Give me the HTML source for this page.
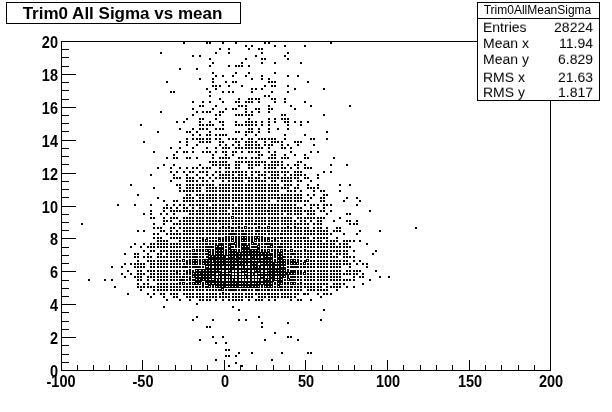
<!DOCTYPE html>
<html><head><meta charset="utf-8"><title>Trim0 All Sigma vs mean</title>
<style>
html,body{margin:0;padding:0;background:#fff;}
body{width:612px;height:412px;position:relative;overflow:hidden;font-family:"Liberation Sans",Arial,Helvetica,sans-serif;color:#000;}
svg{position:absolute;left:0;top:0;}
.title{position:absolute;left:6px;top:2px;width:231px;padding-right:2px;will-change:transform;height:20px;border:1px solid #000;background:#fff;text-align:center;font-weight:bold;font-size:17px;line-height:21px;white-space:nowrap;}
.yl{will-change:transform;transform:scale(1,1.11);position:absolute;left:0;width:58px;text-align:right;font-weight:bold;font-size:14.5px;line-height:18px;height:18px;}
.xl{will-change:transform;transform:scale(1,1.11);position:absolute;top:372px;width:60px;text-align:center;font-weight:bold;font-size:14.5px;line-height:18px;height:18px;}
.stats{position:absolute;left:477px;top:2px;width:121px;height:97px;border:1px solid #000;background:#fff;}
.stats .hd{will-change:transform;padding-right:2px;height:15px;border-bottom:1px solid #000;text-align:center;font-size:12px;line-height:15px;white-space:nowrap;}
.stats .row{position:absolute;left:5px;right:6px;height:16px;font-size:14px;line-height:16px;white-space:nowrap;transform:scale(1,0.93);transform-origin:0 78%;will-change:transform;}
.stats .row span{position:absolute;right:0;top:0;}
</style></head><body>
<svg width="612" height="412" viewBox="0 0 612 412" shape-rendering="crispEdges"><rect x="61" y="41" width="490" height="1" fill="#000"/><rect x="61" y="370" width="490" height="1" fill="#000"/><rect x="61" y="41" width="1" height="330" fill="#000"/><rect x="550" y="41" width="1" height="330" fill="#000"/><rect x="61" y="370" width="15" height="1" fill="#000"/><rect x="61" y="362" width="8" height="1" fill="#000"/><rect x="61" y="354" width="8" height="1" fill="#000"/><rect x="61" y="345" width="8" height="1" fill="#000"/><rect x="61" y="337" width="15" height="1" fill="#000"/><rect x="61" y="329" width="8" height="1" fill="#000"/><rect x="61" y="321" width="8" height="1" fill="#000"/><rect x="61" y="312" width="8" height="1" fill="#000"/><rect x="61" y="304" width="15" height="1" fill="#000"/><rect x="61" y="296" width="8" height="1" fill="#000"/><rect x="61" y="288" width="8" height="1" fill="#000"/><rect x="61" y="280" width="8" height="1" fill="#000"/><rect x="61" y="271" width="15" height="1" fill="#000"/><rect x="61" y="263" width="8" height="1" fill="#000"/><rect x="61" y="255" width="8" height="1" fill="#000"/><rect x="61" y="247" width="8" height="1" fill="#000"/><rect x="61" y="238" width="15" height="1" fill="#000"/><rect x="61" y="230" width="8" height="1" fill="#000"/><rect x="61" y="222" width="8" height="1" fill="#000"/><rect x="61" y="214" width="8" height="1" fill="#000"/><rect x="61" y="206" width="15" height="1" fill="#000"/><rect x="61" y="197" width="8" height="1" fill="#000"/><rect x="61" y="189" width="8" height="1" fill="#000"/><rect x="61" y="181" width="8" height="1" fill="#000"/><rect x="61" y="173" width="15" height="1" fill="#000"/><rect x="61" y="164" width="8" height="1" fill="#000"/><rect x="61" y="156" width="8" height="1" fill="#000"/><rect x="61" y="148" width="8" height="1" fill="#000"/><rect x="61" y="140" width="15" height="1" fill="#000"/><rect x="61" y="131" width="8" height="1" fill="#000"/><rect x="61" y="123" width="8" height="1" fill="#000"/><rect x="61" y="115" width="8" height="1" fill="#000"/><rect x="61" y="107" width="15" height="1" fill="#000"/><rect x="61" y="99" width="8" height="1" fill="#000"/><rect x="61" y="90" width="8" height="1" fill="#000"/><rect x="61" y="82" width="8" height="1" fill="#000"/><rect x="61" y="74" width="15" height="1" fill="#000"/><rect x="61" y="66" width="8" height="1" fill="#000"/><rect x="61" y="57" width="8" height="1" fill="#000"/><rect x="61" y="49" width="8" height="1" fill="#000"/><rect x="61" y="41" width="15" height="1" fill="#000"/><rect x="61" y="360" width="1" height="11" fill="#000"/><rect x="77" y="365" width="1" height="6" fill="#000"/><rect x="93" y="365" width="1" height="6" fill="#000"/><rect x="109" y="365" width="1" height="6" fill="#000"/><rect x="126" y="365" width="1" height="6" fill="#000"/><rect x="142" y="360" width="1" height="11" fill="#000"/><rect x="158" y="365" width="1" height="6" fill="#000"/><rect x="175" y="365" width="1" height="6" fill="#000"/><rect x="191" y="365" width="1" height="6" fill="#000"/><rect x="207" y="365" width="1" height="6" fill="#000"/><rect x="224" y="360" width="1" height="11" fill="#000"/><rect x="240" y="365" width="1" height="6" fill="#000"/><rect x="256" y="365" width="1" height="6" fill="#000"/><rect x="273" y="365" width="1" height="6" fill="#000"/><rect x="289" y="365" width="1" height="6" fill="#000"/><rect x="305" y="360" width="1" height="11" fill="#000"/><rect x="322" y="365" width="1" height="6" fill="#000"/><rect x="338" y="365" width="1" height="6" fill="#000"/><rect x="354" y="365" width="1" height="6" fill="#000"/><rect x="371" y="365" width="1" height="6" fill="#000"/><rect x="387" y="360" width="1" height="11" fill="#000"/><rect x="403" y="365" width="1" height="6" fill="#000"/><rect x="420" y="365" width="1" height="6" fill="#000"/><rect x="436" y="365" width="1" height="6" fill="#000"/><rect x="452" y="365" width="1" height="6" fill="#000"/><rect x="469" y="360" width="1" height="11" fill="#000"/><rect x="485" y="365" width="1" height="6" fill="#000"/><rect x="501" y="365" width="1" height="6" fill="#000"/><rect x="518" y="365" width="1" height="6" fill="#000"/><rect x="534" y="365" width="1" height="6" fill="#000"/><rect x="550" y="360" width="1" height="11" fill="#000"/><g fill="#000"><rect x="183" y="42" width="2" height="2"/><rect x="206" y="42" width="2" height="2"/><rect x="209" y="42" width="2" height="2"/><rect x="222" y="42" width="2" height="2"/><rect x="235" y="42" width="2" height="2"/><rect x="264" y="42" width="2" height="2"/><rect x="268" y="42" width="2" height="2"/><rect x="330" y="42" width="2" height="2"/><rect x="245" y="45" width="2" height="2"/><rect x="251" y="45" width="2" height="2"/><rect x="274" y="45" width="2" height="2"/><rect x="284" y="45" width="2" height="2"/><rect x="304" y="45" width="2" height="2"/><rect x="219" y="48" width="2" height="2"/><rect x="228" y="48" width="2" height="2"/><rect x="248" y="48" width="2" height="2"/><rect x="258" y="48" width="2" height="2"/><rect x="261" y="48" width="2" height="2"/><rect x="160" y="52" width="2" height="2"/><rect x="215" y="52" width="2" height="2"/><rect x="228" y="52" width="2" height="2"/><rect x="261" y="52" width="2" height="2"/><rect x="287" y="52" width="2" height="2"/><rect x="192" y="55" width="2" height="2"/><rect x="199" y="55" width="2" height="2"/><rect x="255" y="55" width="2" height="2"/><rect x="284" y="55" width="2" height="2"/><rect x="209" y="58" width="2" height="2"/><rect x="245" y="58" width="2" height="2"/><rect x="261" y="58" width="2" height="2"/><rect x="264" y="58" width="2" height="2"/><rect x="287" y="58" width="2" height="2"/><rect x="212" y="62" width="2" height="2"/><rect x="241" y="62" width="2" height="2"/><rect x="261" y="62" width="2" height="2"/><rect x="274" y="62" width="2" height="2"/><rect x="300" y="62" width="2" height="2"/><rect x="209" y="65" width="2" height="2"/><rect x="228" y="65" width="2" height="2"/><rect x="235" y="65" width="2" height="2"/><rect x="238" y="65" width="2" height="2"/><rect x="241" y="65" width="2" height="2"/><rect x="248" y="65" width="2" height="2"/><rect x="179" y="68" width="2" height="2"/><rect x="196" y="68" width="2" height="2"/><rect x="212" y="72" width="2" height="2"/><rect x="235" y="72" width="2" height="2"/><rect x="248" y="72" width="2" height="2"/><rect x="274" y="72" width="2" height="2"/><rect x="215" y="75" width="2" height="2"/><rect x="222" y="75" width="2" height="2"/><rect x="232" y="75" width="2" height="2"/><rect x="245" y="75" width="2" height="2"/><rect x="261" y="75" width="2" height="2"/><rect x="287" y="75" width="2" height="2"/><rect x="297" y="75" width="2" height="2"/><rect x="199" y="78" width="2" height="2"/><rect x="212" y="78" width="2" height="2"/><rect x="251" y="78" width="2" height="2"/><rect x="261" y="78" width="2" height="2"/><rect x="268" y="78" width="2" height="2"/><rect x="166" y="81" width="2" height="2"/><rect x="212" y="81" width="2" height="2"/><rect x="225" y="81" width="2" height="2"/><rect x="232" y="81" width="2" height="2"/><rect x="235" y="81" width="2" height="2"/><rect x="268" y="81" width="2" height="2"/><rect x="271" y="81" width="2" height="2"/><rect x="274" y="81" width="2" height="2"/><rect x="307" y="81" width="2" height="2"/><rect x="212" y="85" width="2" height="2"/><rect x="215" y="85" width="2" height="2"/><rect x="219" y="85" width="2" height="2"/><rect x="228" y="85" width="2" height="2"/><rect x="241" y="85" width="2" height="2"/><rect x="264" y="85" width="2" height="2"/><rect x="271" y="85" width="2" height="2"/><rect x="274" y="85" width="2" height="2"/><rect x="287" y="85" width="2" height="2"/><rect x="206" y="88" width="2" height="2"/><rect x="215" y="88" width="2" height="2"/><rect x="251" y="88" width="2" height="2"/><rect x="255" y="88" width="2" height="2"/><rect x="261" y="88" width="2" height="2"/><rect x="294" y="88" width="2" height="2"/><rect x="323" y="88" width="2" height="2"/><rect x="170" y="91" width="2" height="2"/><rect x="173" y="91" width="2" height="2"/><rect x="209" y="91" width="2" height="2"/><rect x="222" y="91" width="2" height="2"/><rect x="228" y="91" width="2" height="2"/><rect x="232" y="91" width="2" height="2"/><rect x="251" y="91" width="2" height="2"/><rect x="271" y="91" width="2" height="2"/><rect x="287" y="91" width="2" height="2"/><rect x="209" y="95" width="2" height="2"/><rect x="264" y="95" width="2" height="2"/><rect x="268" y="95" width="2" height="2"/><rect x="219" y="98" width="2" height="2"/><rect x="238" y="98" width="2" height="2"/><rect x="248" y="98" width="2" height="2"/><rect x="251" y="98" width="2" height="2"/><rect x="255" y="98" width="2" height="2"/><rect x="258" y="98" width="2" height="2"/><rect x="271" y="98" width="2" height="2"/><rect x="274" y="98" width="2" height="2"/><rect x="284" y="98" width="2" height="2"/><rect x="192" y="101" width="2" height="2"/><rect x="202" y="101" width="2" height="2"/><rect x="209" y="101" width="2" height="2"/><rect x="222" y="101" width="2" height="2"/><rect x="235" y="101" width="2" height="2"/><rect x="238" y="101" width="2" height="2"/><rect x="245" y="101" width="2" height="2"/><rect x="248" y="101" width="2" height="2"/><rect x="251" y="101" width="2" height="2"/><rect x="258" y="101" width="2" height="2"/><rect x="274" y="101" width="2" height="2"/><rect x="284" y="101" width="2" height="2"/><rect x="304" y="101" width="2" height="2"/><rect x="199" y="105" width="2" height="2"/><rect x="202" y="105" width="2" height="2"/><rect x="215" y="105" width="2" height="2"/><rect x="238" y="105" width="2" height="2"/><rect x="241" y="105" width="2" height="2"/><rect x="245" y="105" width="2" height="2"/><rect x="268" y="105" width="2" height="2"/><rect x="290" y="105" width="2" height="2"/><rect x="310" y="105" width="2" height="2"/><rect x="349" y="105" width="2" height="2"/><rect x="192" y="108" width="2" height="2"/><rect x="212" y="108" width="2" height="2"/><rect x="225" y="108" width="2" height="2"/><rect x="232" y="108" width="2" height="2"/><rect x="235" y="108" width="2" height="2"/><rect x="245" y="108" width="2" height="2"/><rect x="255" y="108" width="2" height="2"/><rect x="258" y="108" width="2" height="2"/><rect x="268" y="108" width="2" height="2"/><rect x="271" y="108" width="2" height="2"/><rect x="294" y="108" width="2" height="2"/><rect x="160" y="111" width="2" height="2"/><rect x="196" y="111" width="2" height="2"/><rect x="202" y="111" width="2" height="2"/><rect x="206" y="111" width="2" height="2"/><rect x="209" y="111" width="2" height="2"/><rect x="219" y="111" width="2" height="2"/><rect x="222" y="111" width="2" height="2"/><rect x="245" y="111" width="2" height="2"/><rect x="251" y="111" width="2" height="2"/><rect x="258" y="111" width="2" height="2"/><rect x="268" y="111" width="2" height="2"/><rect x="192" y="114" width="2" height="2"/><rect x="215" y="114" width="2" height="2"/><rect x="219" y="114" width="2" height="2"/><rect x="235" y="114" width="2" height="2"/><rect x="238" y="114" width="2" height="2"/><rect x="241" y="114" width="2" height="2"/><rect x="245" y="114" width="2" height="2"/><rect x="248" y="114" width="2" height="2"/><rect x="251" y="114" width="2" height="2"/><rect x="281" y="114" width="2" height="2"/><rect x="284" y="114" width="2" height="2"/><rect x="323" y="114" width="2" height="2"/><rect x="186" y="118" width="2" height="2"/><rect x="199" y="118" width="2" height="2"/><rect x="202" y="118" width="2" height="2"/><rect x="215" y="118" width="2" height="2"/><rect x="248" y="118" width="2" height="2"/><rect x="268" y="118" width="2" height="2"/><rect x="274" y="118" width="2" height="2"/><rect x="281" y="118" width="2" height="2"/><rect x="284" y="118" width="2" height="2"/><rect x="287" y="118" width="2" height="2"/><rect x="176" y="121" width="2" height="2"/><rect x="183" y="121" width="2" height="2"/><rect x="199" y="121" width="2" height="2"/><rect x="209" y="121" width="2" height="2"/><rect x="219" y="121" width="2" height="2"/><rect x="222" y="121" width="2" height="2"/><rect x="235" y="121" width="2" height="2"/><rect x="245" y="121" width="2" height="2"/><rect x="248" y="121" width="2" height="2"/><rect x="251" y="121" width="2" height="2"/><rect x="255" y="121" width="2" height="2"/><rect x="261" y="121" width="2" height="2"/><rect x="268" y="121" width="2" height="2"/><rect x="274" y="121" width="2" height="2"/><rect x="284" y="121" width="2" height="2"/><rect x="287" y="121" width="2" height="2"/><rect x="294" y="121" width="2" height="2"/><rect x="300" y="121" width="2" height="2"/><rect x="307" y="121" width="2" height="2"/><rect x="140" y="124" width="2" height="2"/><rect x="199" y="124" width="2" height="2"/><rect x="202" y="124" width="2" height="2"/><rect x="206" y="124" width="2" height="2"/><rect x="209" y="124" width="2" height="2"/><rect x="212" y="124" width="2" height="2"/><rect x="222" y="124" width="2" height="2"/><rect x="235" y="124" width="2" height="2"/><rect x="238" y="124" width="2" height="2"/><rect x="241" y="124" width="2" height="2"/><rect x="245" y="124" width="2" height="2"/><rect x="248" y="124" width="2" height="2"/><rect x="251" y="124" width="2" height="2"/><rect x="255" y="124" width="2" height="2"/><rect x="261" y="124" width="2" height="2"/><rect x="268" y="124" width="2" height="2"/><rect x="287" y="124" width="2" height="2"/><rect x="300" y="124" width="2" height="2"/><rect x="179" y="128" width="2" height="2"/><rect x="192" y="128" width="2" height="2"/><rect x="199" y="128" width="2" height="2"/><rect x="202" y="128" width="2" height="2"/><rect x="206" y="128" width="2" height="2"/><rect x="215" y="128" width="2" height="2"/><rect x="219" y="128" width="2" height="2"/><rect x="222" y="128" width="2" height="2"/><rect x="248" y="128" width="2" height="2"/><rect x="251" y="128" width="2" height="2"/><rect x="258" y="128" width="2" height="2"/><rect x="268" y="128" width="2" height="2"/><rect x="277" y="128" width="2" height="2"/><rect x="287" y="128" width="2" height="2"/><rect x="157" y="131" width="2" height="2"/><rect x="186" y="131" width="2" height="2"/><rect x="189" y="131" width="2" height="2"/><rect x="196" y="131" width="2" height="2"/><rect x="209" y="131" width="2" height="2"/><rect x="235" y="131" width="2" height="2"/><rect x="238" y="131" width="2" height="2"/><rect x="245" y="131" width="2" height="2"/><rect x="248" y="131" width="2" height="2"/><rect x="251" y="131" width="2" height="2"/><rect x="258" y="131" width="2" height="2"/><rect x="268" y="131" width="2" height="2"/><rect x="326" y="131" width="2" height="2"/><rect x="192" y="134" width="2" height="2"/><rect x="199" y="134" width="2" height="2"/><rect x="206" y="134" width="2" height="2"/><rect x="209" y="134" width="2" height="2"/><rect x="215" y="134" width="2" height="2"/><rect x="219" y="134" width="2" height="2"/><rect x="222" y="134" width="2" height="2"/><rect x="225" y="134" width="2" height="2"/><rect x="245" y="134" width="2" height="2"/><rect x="255" y="134" width="2" height="2"/><rect x="284" y="134" width="2" height="2"/><rect x="304" y="134" width="2" height="2"/><rect x="186" y="138" width="2" height="2"/><rect x="192" y="138" width="2" height="2"/><rect x="196" y="138" width="2" height="2"/><rect x="199" y="138" width="2" height="2"/><rect x="202" y="138" width="2" height="2"/><rect x="206" y="138" width="2" height="2"/><rect x="209" y="138" width="2" height="2"/><rect x="215" y="138" width="2" height="2"/><rect x="219" y="138" width="2" height="2"/><rect x="228" y="138" width="2" height="2"/><rect x="232" y="138" width="2" height="2"/><rect x="235" y="138" width="2" height="2"/><rect x="241" y="138" width="2" height="2"/><rect x="248" y="138" width="2" height="2"/><rect x="251" y="138" width="2" height="2"/><rect x="258" y="138" width="2" height="2"/><rect x="261" y="138" width="2" height="2"/><rect x="264" y="138" width="2" height="2"/><rect x="268" y="138" width="2" height="2"/><rect x="271" y="138" width="2" height="2"/><rect x="274" y="138" width="2" height="2"/><rect x="284" y="138" width="2" height="2"/><rect x="310" y="138" width="2" height="2"/><rect x="313" y="138" width="2" height="2"/><rect x="326" y="138" width="2" height="2"/><rect x="143" y="141" width="2" height="2"/><rect x="179" y="141" width="2" height="2"/><rect x="186" y="141" width="2" height="2"/><rect x="199" y="141" width="2" height="2"/><rect x="202" y="141" width="2" height="2"/><rect x="206" y="141" width="2" height="2"/><rect x="209" y="141" width="2" height="2"/><rect x="219" y="141" width="2" height="2"/><rect x="222" y="141" width="2" height="2"/><rect x="235" y="141" width="2" height="2"/><rect x="238" y="141" width="2" height="2"/><rect x="245" y="141" width="2" height="2"/><rect x="248" y="141" width="2" height="2"/><rect x="251" y="141" width="2" height="2"/><rect x="255" y="141" width="2" height="2"/><rect x="264" y="141" width="2" height="2"/><rect x="271" y="141" width="2" height="2"/><rect x="274" y="141" width="2" height="2"/><rect x="277" y="141" width="2" height="2"/><rect x="281" y="141" width="2" height="2"/><rect x="294" y="141" width="2" height="2"/><rect x="297" y="141" width="2" height="2"/><rect x="300" y="141" width="2" height="2"/><rect x="186" y="144" width="2" height="2"/><rect x="196" y="144" width="2" height="2"/><rect x="219" y="144" width="2" height="2"/><rect x="225" y="144" width="2" height="2"/><rect x="232" y="144" width="2" height="2"/><rect x="238" y="144" width="2" height="2"/><rect x="245" y="144" width="2" height="2"/><rect x="248" y="144" width="2" height="2"/><rect x="251" y="144" width="2" height="2"/><rect x="255" y="144" width="2" height="2"/><rect x="258" y="144" width="2" height="2"/><rect x="264" y="144" width="2" height="2"/><rect x="268" y="144" width="2" height="2"/><rect x="271" y="144" width="2" height="2"/><rect x="281" y="144" width="2" height="2"/><rect x="287" y="144" width="2" height="2"/><rect x="297" y="144" width="2" height="2"/><rect x="313" y="144" width="2" height="2"/><rect x="170" y="147" width="2" height="2"/><rect x="179" y="147" width="2" height="2"/><rect x="192" y="147" width="2" height="2"/><rect x="206" y="147" width="2" height="2"/><rect x="215" y="147" width="2" height="2"/><rect x="222" y="147" width="2" height="2"/><rect x="225" y="147" width="2" height="2"/><rect x="228" y="147" width="2" height="2"/><rect x="235" y="147" width="2" height="2"/><rect x="238" y="147" width="2" height="2"/><rect x="241" y="147" width="2" height="2"/><rect x="245" y="147" width="2" height="2"/><rect x="248" y="147" width="2" height="2"/><rect x="251" y="147" width="2" height="2"/><rect x="255" y="147" width="2" height="2"/><rect x="258" y="147" width="2" height="2"/><rect x="261" y="147" width="2" height="2"/><rect x="268" y="147" width="2" height="2"/><rect x="281" y="147" width="2" height="2"/><rect x="284" y="147" width="2" height="2"/><rect x="290" y="147" width="2" height="2"/><rect x="153" y="151" width="2" height="2"/><rect x="176" y="151" width="2" height="2"/><rect x="183" y="151" width="2" height="2"/><rect x="186" y="151" width="2" height="2"/><rect x="192" y="151" width="2" height="2"/><rect x="202" y="151" width="2" height="2"/><rect x="206" y="151" width="2" height="2"/><rect x="209" y="151" width="2" height="2"/><rect x="215" y="151" width="2" height="2"/><rect x="222" y="151" width="2" height="2"/><rect x="225" y="151" width="2" height="2"/><rect x="232" y="151" width="2" height="2"/><rect x="235" y="151" width="2" height="2"/><rect x="241" y="151" width="2" height="2"/><rect x="248" y="151" width="2" height="2"/><rect x="251" y="151" width="2" height="2"/><rect x="255" y="151" width="2" height="2"/><rect x="258" y="151" width="2" height="2"/><rect x="268" y="151" width="2" height="2"/><rect x="274" y="151" width="2" height="2"/><rect x="290" y="151" width="2" height="2"/><rect x="310" y="151" width="2" height="2"/><rect x="317" y="151" width="2" height="2"/><rect x="173" y="154" width="2" height="2"/><rect x="212" y="154" width="2" height="2"/><rect x="225" y="154" width="2" height="2"/><rect x="232" y="154" width="2" height="2"/><rect x="258" y="154" width="2" height="2"/><rect x="261" y="154" width="2" height="2"/><rect x="271" y="154" width="2" height="2"/><rect x="274" y="154" width="2" height="2"/><rect x="284" y="154" width="2" height="2"/><rect x="294" y="154" width="2" height="2"/><rect x="304" y="154" width="2" height="2"/><rect x="166" y="157" width="2" height="2"/><rect x="173" y="157" width="2" height="2"/><rect x="176" y="157" width="2" height="2"/><rect x="186" y="157" width="2" height="2"/><rect x="189" y="157" width="2" height="2"/><rect x="196" y="157" width="2" height="2"/><rect x="212" y="157" width="2" height="2"/><rect x="219" y="157" width="2" height="2"/><rect x="222" y="157" width="2" height="2"/><rect x="225" y="157" width="2" height="2"/><rect x="228" y="157" width="2" height="2"/><rect x="238" y="157" width="2" height="2"/><rect x="241" y="157" width="2" height="2"/><rect x="245" y="157" width="2" height="2"/><rect x="251" y="157" width="2" height="2"/><rect x="255" y="157" width="2" height="2"/><rect x="258" y="157" width="2" height="2"/><rect x="268" y="157" width="2" height="2"/><rect x="271" y="157" width="2" height="2"/><rect x="274" y="157" width="2" height="2"/><rect x="281" y="157" width="2" height="2"/><rect x="284" y="157" width="2" height="2"/><rect x="287" y="157" width="2" height="2"/><rect x="304" y="157" width="2" height="2"/><rect x="307" y="157" width="2" height="2"/><rect x="333" y="157" width="2" height="2"/><rect x="209" y="161" width="2" height="2"/><rect x="212" y="161" width="2" height="2"/><rect x="215" y="161" width="2" height="2"/><rect x="219" y="161" width="2" height="2"/><rect x="222" y="161" width="2" height="2"/><rect x="225" y="161" width="2" height="2"/><rect x="235" y="161" width="2" height="2"/><rect x="238" y="161" width="2" height="2"/><rect x="241" y="161" width="2" height="2"/><rect x="245" y="161" width="2" height="2"/><rect x="248" y="161" width="2" height="2"/><rect x="251" y="161" width="2" height="2"/><rect x="255" y="161" width="2" height="2"/><rect x="258" y="161" width="2" height="2"/><rect x="261" y="161" width="2" height="2"/><rect x="264" y="161" width="2" height="2"/><rect x="271" y="161" width="2" height="2"/><rect x="274" y="161" width="2" height="2"/><rect x="277" y="161" width="2" height="2"/><rect x="281" y="161" width="2" height="2"/><rect x="297" y="161" width="2" height="2"/><rect x="300" y="161" width="2" height="2"/><rect x="163" y="164" width="2" height="2"/><rect x="173" y="164" width="2" height="2"/><rect x="199" y="164" width="2" height="2"/><rect x="212" y="164" width="2" height="2"/><rect x="215" y="164" width="2" height="2"/><rect x="219" y="164" width="2" height="2"/><rect x="222" y="164" width="2" height="2"/><rect x="225" y="164" width="2" height="2"/><rect x="228" y="164" width="2" height="2"/><rect x="235" y="164" width="2" height="2"/><rect x="238" y="164" width="2" height="2"/><rect x="248" y="164" width="2" height="2"/><rect x="251" y="164" width="2" height="2"/><rect x="255" y="164" width="2" height="2"/><rect x="258" y="164" width="2" height="2"/><rect x="264" y="164" width="2" height="2"/><rect x="268" y="164" width="2" height="2"/><rect x="271" y="164" width="2" height="2"/><rect x="274" y="164" width="2" height="2"/><rect x="277" y="164" width="2" height="2"/><rect x="281" y="164" width="2" height="2"/><rect x="287" y="164" width="2" height="2"/><rect x="294" y="164" width="2" height="2"/><rect x="297" y="164" width="2" height="2"/><rect x="304" y="164" width="2" height="2"/><rect x="330" y="164" width="2" height="2"/><rect x="346" y="164" width="2" height="2"/><rect x="157" y="167" width="2" height="2"/><rect x="170" y="167" width="2" height="2"/><rect x="179" y="167" width="2" height="2"/><rect x="186" y="167" width="2" height="2"/><rect x="192" y="167" width="2" height="2"/><rect x="196" y="167" width="2" height="2"/><rect x="202" y="167" width="2" height="2"/><rect x="206" y="167" width="2" height="2"/><rect x="209" y="167" width="2" height="2"/><rect x="219" y="167" width="2" height="2"/><rect x="225" y="167" width="2" height="2"/><rect x="228" y="167" width="2" height="2"/><rect x="235" y="167" width="2" height="2"/><rect x="238" y="167" width="2" height="2"/><rect x="248" y="167" width="2" height="2"/><rect x="251" y="167" width="2" height="2"/><rect x="264" y="167" width="2" height="2"/><rect x="268" y="167" width="2" height="2"/><rect x="271" y="167" width="2" height="2"/><rect x="274" y="167" width="2" height="2"/><rect x="281" y="167" width="2" height="2"/><rect x="284" y="167" width="2" height="2"/><rect x="290" y="167" width="2" height="2"/><rect x="297" y="167" width="2" height="2"/><rect x="304" y="167" width="2" height="2"/><rect x="307" y="167" width="2" height="2"/><rect x="310" y="167" width="2" height="2"/><rect x="170" y="171" width="2" height="2"/><rect x="176" y="171" width="2" height="2"/><rect x="183" y="171" width="2" height="2"/><rect x="189" y="171" width="2" height="2"/><rect x="192" y="171" width="2" height="2"/><rect x="199" y="171" width="2" height="2"/><rect x="202" y="171" width="2" height="2"/><rect x="206" y="171" width="2" height="2"/><rect x="215" y="171" width="2" height="2"/><rect x="219" y="171" width="2" height="2"/><rect x="225" y="171" width="2" height="2"/><rect x="228" y="171" width="2" height="2"/><rect x="232" y="171" width="2" height="2"/><rect x="235" y="171" width="2" height="2"/><rect x="238" y="171" width="2" height="2"/><rect x="241" y="171" width="2" height="2"/><rect x="245" y="171" width="2" height="2"/><rect x="251" y="171" width="2" height="2"/><rect x="255" y="171" width="2" height="2"/><rect x="258" y="171" width="2" height="2"/><rect x="264" y="171" width="2" height="2"/><rect x="268" y="171" width="2" height="2"/><rect x="271" y="171" width="2" height="2"/><rect x="274" y="171" width="2" height="2"/><rect x="277" y="171" width="2" height="2"/><rect x="281" y="171" width="2" height="2"/><rect x="284" y="171" width="2" height="2"/><rect x="287" y="171" width="2" height="2"/><rect x="294" y="171" width="2" height="2"/><rect x="297" y="171" width="2" height="2"/><rect x="300" y="171" width="2" height="2"/><rect x="323" y="171" width="2" height="2"/><rect x="330" y="171" width="2" height="2"/><rect x="150" y="174" width="2" height="2"/><rect x="173" y="174" width="2" height="2"/><rect x="186" y="174" width="2" height="2"/><rect x="196" y="174" width="2" height="2"/><rect x="206" y="174" width="2" height="2"/><rect x="212" y="174" width="2" height="2"/><rect x="219" y="174" width="2" height="2"/><rect x="222" y="174" width="2" height="2"/><rect x="225" y="174" width="2" height="2"/><rect x="228" y="174" width="2" height="2"/><rect x="232" y="174" width="2" height="2"/><rect x="238" y="174" width="2" height="2"/><rect x="241" y="174" width="2" height="2"/><rect x="245" y="174" width="2" height="2"/><rect x="251" y="174" width="2" height="2"/><rect x="258" y="174" width="2" height="2"/><rect x="261" y="174" width="2" height="2"/><rect x="264" y="174" width="2" height="2"/><rect x="271" y="174" width="2" height="2"/><rect x="274" y="174" width="2" height="2"/><rect x="277" y="174" width="2" height="2"/><rect x="284" y="174" width="2" height="2"/><rect x="290" y="174" width="2" height="2"/><rect x="294" y="174" width="2" height="2"/><rect x="297" y="174" width="2" height="2"/><rect x="300" y="174" width="2" height="2"/><rect x="304" y="174" width="2" height="2"/><rect x="317" y="174" width="2" height="2"/><rect x="173" y="177" width="2" height="2"/><rect x="176" y="177" width="2" height="2"/><rect x="179" y="177" width="2" height="2"/><rect x="186" y="177" width="2" height="2"/><rect x="189" y="177" width="2" height="2"/><rect x="192" y="177" width="2" height="2"/><rect x="199" y="177" width="2" height="2"/><rect x="202" y="177" width="2" height="2"/><rect x="209" y="177" width="2" height="2"/><rect x="215" y="177" width="2" height="2"/><rect x="219" y="177" width="2" height="2"/><rect x="222" y="177" width="2" height="2"/><rect x="225" y="177" width="2" height="2"/><rect x="228" y="177" width="2" height="2"/><rect x="232" y="177" width="2" height="2"/><rect x="235" y="177" width="2" height="2"/><rect x="238" y="177" width="2" height="2"/><rect x="241" y="177" width="2" height="2"/><rect x="245" y="177" width="2" height="2"/><rect x="248" y="177" width="2" height="2"/><rect x="251" y="177" width="2" height="2"/><rect x="255" y="177" width="2" height="2"/><rect x="258" y="177" width="2" height="2"/><rect x="264" y="177" width="2" height="2"/><rect x="268" y="177" width="2" height="2"/><rect x="271" y="177" width="2" height="2"/><rect x="274" y="177" width="2" height="2"/><rect x="277" y="177" width="2" height="2"/><rect x="281" y="177" width="2" height="2"/><rect x="284" y="177" width="2" height="2"/><rect x="287" y="177" width="2" height="2"/><rect x="290" y="177" width="2" height="2"/><rect x="294" y="177" width="2" height="2"/><rect x="297" y="177" width="2" height="2"/><rect x="304" y="177" width="2" height="2"/><rect x="307" y="177" width="2" height="2"/><rect x="317" y="177" width="2" height="2"/><rect x="170" y="180" width="2" height="2"/><rect x="186" y="180" width="2" height="2"/><rect x="189" y="180" width="2" height="2"/><rect x="192" y="180" width="2" height="2"/><rect x="196" y="180" width="2" height="2"/><rect x="202" y="180" width="2" height="2"/><rect x="206" y="180" width="2" height="2"/><rect x="212" y="180" width="2" height="2"/><rect x="222" y="180" width="2" height="2"/><rect x="228" y="180" width="2" height="2"/><rect x="232" y="180" width="2" height="2"/><rect x="235" y="180" width="2" height="2"/><rect x="238" y="180" width="2" height="2"/><rect x="241" y="180" width="2" height="2"/><rect x="248" y="180" width="2" height="2"/><rect x="251" y="180" width="2" height="2"/><rect x="255" y="180" width="2" height="2"/><rect x="258" y="180" width="2" height="2"/><rect x="261" y="180" width="2" height="2"/><rect x="264" y="180" width="2" height="2"/><rect x="271" y="180" width="2" height="2"/><rect x="274" y="180" width="2" height="2"/><rect x="281" y="180" width="2" height="2"/><rect x="284" y="180" width="2" height="2"/><rect x="287" y="180" width="2" height="2"/><rect x="290" y="180" width="2" height="2"/><rect x="297" y="180" width="2" height="2"/><rect x="300" y="180" width="2" height="2"/><rect x="310" y="180" width="2" height="2"/><rect x="130" y="184" width="2" height="2"/><rect x="176" y="184" width="2" height="2"/><rect x="179" y="184" width="2" height="2"/><rect x="186" y="184" width="2" height="2"/><rect x="189" y="184" width="2" height="2"/><rect x="192" y="184" width="2" height="2"/><rect x="196" y="184" width="2" height="2"/><rect x="199" y="184" width="2" height="2"/><rect x="202" y="184" width="2" height="2"/><rect x="206" y="184" width="2" height="2"/><rect x="209" y="184" width="2" height="2"/><rect x="212" y="184" width="2" height="2"/><rect x="219" y="184" width="2" height="2"/><rect x="222" y="184" width="2" height="2"/><rect x="225" y="184" width="2" height="2"/><rect x="228" y="184" width="2" height="2"/><rect x="232" y="184" width="2" height="2"/><rect x="235" y="184" width="2" height="2"/><rect x="238" y="184" width="2" height="2"/><rect x="241" y="184" width="2" height="2"/><rect x="245" y="184" width="2" height="2"/><rect x="248" y="184" width="2" height="2"/><rect x="251" y="184" width="2" height="2"/><rect x="255" y="184" width="2" height="2"/><rect x="258" y="184" width="2" height="2"/><rect x="261" y="184" width="2" height="2"/><rect x="264" y="184" width="2" height="2"/><rect x="268" y="184" width="2" height="2"/><rect x="271" y="184" width="2" height="2"/><rect x="274" y="184" width="2" height="2"/><rect x="277" y="184" width="2" height="2"/><rect x="284" y="184" width="2" height="2"/><rect x="287" y="184" width="2" height="2"/><rect x="290" y="184" width="2" height="2"/><rect x="297" y="184" width="2" height="2"/><rect x="307" y="184" width="2" height="2"/><rect x="317" y="184" width="2" height="2"/><rect x="339" y="184" width="2" height="2"/><rect x="349" y="184" width="2" height="2"/><rect x="153" y="187" width="2" height="2"/><rect x="179" y="187" width="2" height="2"/><rect x="186" y="187" width="2" height="2"/><rect x="189" y="187" width="2" height="2"/><rect x="192" y="187" width="2" height="2"/><rect x="196" y="187" width="2" height="2"/><rect x="199" y="187" width="2" height="2"/><rect x="206" y="187" width="2" height="2"/><rect x="209" y="187" width="2" height="2"/><rect x="212" y="187" width="2" height="2"/><rect x="215" y="187" width="2" height="2"/><rect x="219" y="187" width="2" height="2"/><rect x="222" y="187" width="2" height="2"/><rect x="225" y="187" width="2" height="2"/><rect x="228" y="187" width="2" height="2"/><rect x="232" y="187" width="2" height="2"/><rect x="235" y="187" width="2" height="2"/><rect x="238" y="187" width="2" height="2"/><rect x="241" y="187" width="2" height="2"/><rect x="245" y="187" width="2" height="2"/><rect x="248" y="187" width="2" height="2"/><rect x="251" y="187" width="2" height="2"/><rect x="255" y="187" width="2" height="2"/><rect x="258" y="187" width="2" height="2"/><rect x="261" y="187" width="2" height="2"/><rect x="264" y="187" width="2" height="2"/><rect x="268" y="187" width="2" height="2"/><rect x="271" y="187" width="2" height="2"/><rect x="274" y="187" width="2" height="2"/><rect x="277" y="187" width="2" height="2"/><rect x="281" y="187" width="2" height="2"/><rect x="284" y="187" width="2" height="2"/><rect x="287" y="187" width="2" height="2"/><rect x="294" y="187" width="2" height="2"/><rect x="297" y="187" width="2" height="2"/><rect x="307" y="187" width="2" height="2"/><rect x="310" y="187" width="2" height="2"/><rect x="313" y="187" width="2" height="2"/><rect x="317" y="187" width="2" height="2"/><rect x="179" y="190" width="2" height="2"/><rect x="183" y="190" width="2" height="2"/><rect x="186" y="190" width="2" height="2"/><rect x="189" y="190" width="2" height="2"/><rect x="192" y="190" width="2" height="2"/><rect x="196" y="190" width="2" height="2"/><rect x="199" y="190" width="2" height="2"/><rect x="206" y="190" width="2" height="2"/><rect x="209" y="190" width="2" height="2"/><rect x="212" y="190" width="2" height="2"/><rect x="215" y="190" width="2" height="2"/><rect x="219" y="190" width="2" height="2"/><rect x="222" y="190" width="2" height="2"/><rect x="225" y="190" width="2" height="2"/><rect x="228" y="190" width="2" height="2"/><rect x="232" y="190" width="2" height="2"/><rect x="235" y="190" width="2" height="2"/><rect x="238" y="190" width="2" height="2"/><rect x="241" y="190" width="2" height="2"/><rect x="245" y="190" width="2" height="2"/><rect x="248" y="190" width="2" height="2"/><rect x="251" y="190" width="2" height="2"/><rect x="255" y="190" width="2" height="2"/><rect x="258" y="190" width="2" height="2"/><rect x="261" y="190" width="2" height="2"/><rect x="264" y="190" width="2" height="2"/><rect x="268" y="190" width="2" height="2"/><rect x="271" y="190" width="2" height="2"/><rect x="274" y="190" width="2" height="2"/><rect x="277" y="190" width="2" height="2"/><rect x="287" y="190" width="2" height="2"/><rect x="290" y="190" width="2" height="2"/><rect x="294" y="190" width="2" height="2"/><rect x="300" y="190" width="2" height="2"/><rect x="313" y="190" width="2" height="2"/><rect x="320" y="190" width="2" height="2"/><rect x="323" y="190" width="2" height="2"/><rect x="339" y="190" width="2" height="2"/><rect x="137" y="194" width="2" height="2"/><rect x="186" y="194" width="2" height="2"/><rect x="189" y="194" width="2" height="2"/><rect x="196" y="194" width="2" height="2"/><rect x="199" y="194" width="2" height="2"/><rect x="202" y="194" width="2" height="2"/><rect x="206" y="194" width="2" height="2"/><rect x="209" y="194" width="2" height="2"/><rect x="212" y="194" width="2" height="2"/><rect x="215" y="194" width="2" height="2"/><rect x="219" y="194" width="2" height="2"/><rect x="222" y="194" width="2" height="2"/><rect x="225" y="194" width="2" height="2"/><rect x="228" y="194" width="2" height="2"/><rect x="232" y="194" width="2" height="2"/><rect x="235" y="194" width="2" height="2"/><rect x="238" y="194" width="2" height="2"/><rect x="241" y="194" width="2" height="2"/><rect x="245" y="194" width="2" height="2"/><rect x="248" y="194" width="2" height="2"/><rect x="251" y="194" width="2" height="2"/><rect x="255" y="194" width="2" height="2"/><rect x="258" y="194" width="2" height="2"/><rect x="261" y="194" width="2" height="2"/><rect x="264" y="194" width="2" height="2"/><rect x="268" y="194" width="2" height="2"/><rect x="271" y="194" width="2" height="2"/><rect x="274" y="194" width="2" height="2"/><rect x="277" y="194" width="2" height="2"/><rect x="281" y="194" width="2" height="2"/><rect x="284" y="194" width="2" height="2"/><rect x="287" y="194" width="2" height="2"/><rect x="290" y="194" width="2" height="2"/><rect x="294" y="194" width="2" height="2"/><rect x="297" y="194" width="2" height="2"/><rect x="300" y="194" width="2" height="2"/><rect x="307" y="194" width="2" height="2"/><rect x="313" y="194" width="2" height="2"/><rect x="323" y="194" width="2" height="2"/><rect x="326" y="194" width="2" height="2"/><rect x="157" y="197" width="2" height="2"/><rect x="183" y="197" width="2" height="2"/><rect x="186" y="197" width="2" height="2"/><rect x="189" y="197" width="2" height="2"/><rect x="192" y="197" width="2" height="2"/><rect x="199" y="197" width="2" height="2"/><rect x="202" y="197" width="2" height="2"/><rect x="206" y="197" width="2" height="2"/><rect x="209" y="197" width="2" height="2"/><rect x="212" y="197" width="2" height="2"/><rect x="215" y="197" width="2" height="2"/><rect x="219" y="197" width="2" height="2"/><rect x="222" y="197" width="2" height="2"/><rect x="225" y="197" width="2" height="2"/><rect x="228" y="197" width="2" height="2"/><rect x="232" y="197" width="2" height="2"/><rect x="235" y="197" width="2" height="2"/><rect x="238" y="197" width="2" height="2"/><rect x="241" y="197" width="2" height="2"/><rect x="245" y="197" width="2" height="2"/><rect x="248" y="197" width="2" height="2"/><rect x="251" y="197" width="2" height="2"/><rect x="255" y="197" width="2" height="2"/><rect x="258" y="197" width="2" height="2"/><rect x="261" y="197" width="2" height="2"/><rect x="264" y="197" width="2" height="2"/><rect x="268" y="197" width="2" height="2"/><rect x="271" y="197" width="2" height="2"/><rect x="274" y="197" width="2" height="2"/><rect x="277" y="197" width="3" height="2"/><rect x="281" y="197" width="2" height="2"/><rect x="284" y="197" width="2" height="2"/><rect x="287" y="197" width="2" height="2"/><rect x="290" y="197" width="2" height="2"/><rect x="294" y="197" width="2" height="2"/><rect x="297" y="197" width="2" height="2"/><rect x="300" y="197" width="2" height="2"/><rect x="310" y="197" width="2" height="2"/><rect x="320" y="197" width="2" height="2"/><rect x="323" y="197" width="2" height="2"/><rect x="346" y="197" width="2" height="2"/><rect x="356" y="197" width="2" height="2"/><rect x="163" y="200" width="2" height="2"/><rect x="173" y="200" width="2" height="2"/><rect x="176" y="200" width="2" height="2"/><rect x="183" y="200" width="2" height="2"/><rect x="186" y="200" width="2" height="2"/><rect x="189" y="200" width="2" height="2"/><rect x="192" y="200" width="2" height="2"/><rect x="196" y="200" width="2" height="2"/><rect x="199" y="200" width="2" height="2"/><rect x="202" y="200" width="2" height="2"/><rect x="206" y="200" width="2" height="2"/><rect x="209" y="200" width="2" height="2"/><rect x="212" y="200" width="2" height="2"/><rect x="215" y="200" width="2" height="2"/><rect x="219" y="200" width="2" height="2"/><rect x="222" y="200" width="2" height="2"/><rect x="225" y="200" width="2" height="2"/><rect x="228" y="200" width="2" height="2"/><rect x="232" y="200" width="2" height="2"/><rect x="235" y="200" width="2" height="2"/><rect x="238" y="200" width="2" height="2"/><rect x="241" y="200" width="2" height="2"/><rect x="245" y="200" width="2" height="2"/><rect x="248" y="200" width="2" height="2"/><rect x="251" y="200" width="2" height="2"/><rect x="255" y="200" width="2" height="2"/><rect x="258" y="200" width="2" height="2"/><rect x="261" y="200" width="2" height="2"/><rect x="264" y="200" width="2" height="2"/><rect x="268" y="200" width="2" height="2"/><rect x="277" y="200" width="2" height="2"/><rect x="281" y="200" width="2" height="2"/><rect x="284" y="200" width="2" height="2"/><rect x="287" y="200" width="2" height="2"/><rect x="290" y="200" width="2" height="2"/><rect x="294" y="200" width="2" height="2"/><rect x="297" y="200" width="2" height="2"/><rect x="300" y="200" width="2" height="2"/><rect x="304" y="200" width="2" height="2"/><rect x="307" y="200" width="2" height="2"/><rect x="320" y="200" width="2" height="2"/><rect x="323" y="200" width="2" height="2"/><rect x="343" y="200" width="2" height="2"/><rect x="359" y="200" width="2" height="2"/><rect x="117" y="204" width="2" height="2"/><rect x="134" y="204" width="2" height="2"/><rect x="150" y="204" width="2" height="2"/><rect x="166" y="204" width="2" height="2"/><rect x="173" y="204" width="2" height="2"/><rect x="179" y="204" width="2" height="2"/><rect x="183" y="204" width="2" height="2"/><rect x="189" y="204" width="2" height="2"/><rect x="192" y="204" width="2" height="2"/><rect x="196" y="204" width="2" height="2"/><rect x="199" y="204" width="2" height="2"/><rect x="202" y="204" width="2" height="2"/><rect x="206" y="204" width="2" height="2"/><rect x="212" y="204" width="2" height="2"/><rect x="215" y="204" width="2" height="2"/><rect x="219" y="204" width="2" height="2"/><rect x="222" y="204" width="2" height="2"/><rect x="225" y="204" width="2" height="2"/><rect x="228" y="204" width="2" height="2"/><rect x="232" y="204" width="2" height="2"/><rect x="238" y="204" width="2" height="2"/><rect x="241" y="204" width="2" height="2"/><rect x="245" y="204" width="2" height="2"/><rect x="248" y="204" width="2" height="2"/><rect x="251" y="204" width="2" height="2"/><rect x="255" y="204" width="2" height="2"/><rect x="258" y="204" width="2" height="2"/><rect x="261" y="204" width="2" height="2"/><rect x="264" y="204" width="2" height="2"/><rect x="268" y="204" width="2" height="2"/><rect x="271" y="204" width="2" height="2"/><rect x="274" y="204" width="2" height="2"/><rect x="277" y="204" width="2" height="2"/><rect x="281" y="204" width="2" height="2"/><rect x="284" y="204" width="2" height="2"/><rect x="287" y="204" width="2" height="2"/><rect x="290" y="204" width="2" height="2"/><rect x="294" y="204" width="2" height="2"/><rect x="304" y="204" width="2" height="2"/><rect x="310" y="204" width="2" height="2"/><rect x="313" y="204" width="2" height="2"/><rect x="317" y="204" width="2" height="2"/><rect x="323" y="204" width="2" height="2"/><rect x="326" y="204" width="2" height="2"/><rect x="330" y="204" width="2" height="2"/><rect x="356" y="204" width="2" height="2"/><rect x="163" y="207" width="2" height="2"/><rect x="166" y="207" width="2" height="2"/><rect x="170" y="207" width="2" height="2"/><rect x="176" y="207" width="2" height="2"/><rect x="183" y="207" width="2" height="2"/><rect x="186" y="207" width="2" height="2"/><rect x="192" y="207" width="2" height="2"/><rect x="199" y="207" width="2" height="2"/><rect x="202" y="207" width="2" height="2"/><rect x="206" y="207" width="2" height="2"/><rect x="209" y="207" width="2" height="2"/><rect x="212" y="207" width="2" height="2"/><rect x="215" y="207" width="2" height="2"/><rect x="219" y="207" width="2" height="2"/><rect x="222" y="207" width="2" height="2"/><rect x="225" y="207" width="2" height="2"/><rect x="228" y="207" width="2" height="2"/><rect x="232" y="207" width="2" height="2"/><rect x="235" y="207" width="2" height="2"/><rect x="238" y="207" width="2" height="2"/><rect x="241" y="207" width="2" height="2"/><rect x="245" y="207" width="2" height="2"/><rect x="248" y="207" width="2" height="2"/><rect x="251" y="207" width="2" height="2"/><rect x="255" y="207" width="2" height="2"/><rect x="258" y="207" width="2" height="2"/><rect x="261" y="207" width="2" height="2"/><rect x="264" y="207" width="2" height="2"/><rect x="268" y="207" width="2" height="2"/><rect x="271" y="207" width="2" height="2"/><rect x="274" y="207" width="2" height="2"/><rect x="277" y="207" width="2" height="2"/><rect x="281" y="207" width="2" height="2"/><rect x="284" y="207" width="2" height="2"/><rect x="287" y="207" width="2" height="2"/><rect x="290" y="207" width="2" height="2"/><rect x="294" y="207" width="2" height="2"/><rect x="297" y="207" width="2" height="2"/><rect x="300" y="207" width="2" height="2"/><rect x="310" y="207" width="2" height="2"/><rect x="317" y="207" width="2" height="2"/><rect x="323" y="207" width="2" height="2"/><rect x="150" y="210" width="2" height="2"/><rect x="163" y="210" width="2" height="2"/><rect x="170" y="210" width="2" height="2"/><rect x="173" y="210" width="2" height="2"/><rect x="176" y="210" width="2" height="2"/><rect x="179" y="210" width="2" height="2"/><rect x="183" y="210" width="2" height="2"/><rect x="186" y="210" width="2" height="2"/><rect x="189" y="210" width="2" height="2"/><rect x="192" y="210" width="2" height="2"/><rect x="196" y="210" width="2" height="2"/><rect x="199" y="210" width="2" height="2"/><rect x="202" y="210" width="2" height="2"/><rect x="206" y="210" width="2" height="2"/><rect x="209" y="210" width="2" height="2"/><rect x="212" y="210" width="2" height="2"/><rect x="215" y="210" width="2" height="2"/><rect x="219" y="210" width="2" height="2"/><rect x="222" y="210" width="2" height="2"/><rect x="225" y="210" width="2" height="2"/><rect x="232" y="210" width="2" height="2"/><rect x="235" y="210" width="2" height="2"/><rect x="238" y="210" width="2" height="2"/><rect x="241" y="210" width="2" height="2"/><rect x="245" y="210" width="2" height="2"/><rect x="248" y="210" width="2" height="2"/><rect x="251" y="210" width="2" height="2"/><rect x="255" y="210" width="2" height="2"/><rect x="258" y="210" width="2" height="2"/><rect x="261" y="210" width="2" height="2"/><rect x="264" y="210" width="2" height="2"/><rect x="267" y="210" width="3" height="2"/><rect x="271" y="210" width="2" height="2"/><rect x="274" y="210" width="2" height="2"/><rect x="277" y="210" width="2" height="2"/><rect x="281" y="210" width="2" height="2"/><rect x="284" y="210" width="2" height="2"/><rect x="287" y="210" width="2" height="2"/><rect x="290" y="210" width="2" height="2"/><rect x="294" y="210" width="2" height="2"/><rect x="297" y="210" width="2" height="2"/><rect x="300" y="210" width="2" height="2"/><rect x="304" y="210" width="2" height="2"/><rect x="307" y="210" width="2" height="2"/><rect x="310" y="210" width="2" height="2"/><rect x="313" y="210" width="2" height="2"/><rect x="320" y="210" width="2" height="2"/><rect x="323" y="210" width="2" height="2"/><rect x="330" y="210" width="2" height="2"/><rect x="369" y="210" width="2" height="2"/><rect x="143" y="213" width="2" height="2"/><rect x="150" y="213" width="2" height="2"/><rect x="160" y="213" width="2" height="2"/><rect x="166" y="213" width="2" height="2"/><rect x="173" y="213" width="2" height="2"/><rect x="189" y="213" width="2" height="2"/><rect x="192" y="213" width="2" height="2"/><rect x="196" y="213" width="2" height="2"/><rect x="199" y="213" width="2" height="2"/><rect x="202" y="213" width="2" height="2"/><rect x="206" y="213" width="2" height="2"/><rect x="209" y="213" width="2" height="2"/><rect x="212" y="213" width="2" height="2"/><rect x="215" y="213" width="2" height="2"/><rect x="219" y="213" width="2" height="2"/><rect x="222" y="213" width="2" height="2"/><rect x="225" y="213" width="2" height="2"/><rect x="228" y="213" width="2" height="2"/><rect x="232" y="213" width="2" height="2"/><rect x="235" y="213" width="2" height="2"/><rect x="238" y="213" width="2" height="2"/><rect x="241" y="213" width="2" height="2"/><rect x="245" y="213" width="2" height="2"/><rect x="248" y="213" width="2" height="2"/><rect x="251" y="213" width="2" height="2"/><rect x="255" y="213" width="2" height="2"/><rect x="258" y="213" width="2" height="2"/><rect x="261" y="213" width="2" height="2"/><rect x="264" y="213" width="2" height="2"/><rect x="268" y="213" width="2" height="2"/><rect x="271" y="213" width="2" height="2"/><rect x="274" y="213" width="2" height="2"/><rect x="277" y="213" width="2" height="2"/><rect x="281" y="213" width="2" height="2"/><rect x="287" y="213" width="2" height="2"/><rect x="290" y="213" width="2" height="2"/><rect x="294" y="213" width="2" height="2"/><rect x="297" y="213" width="2" height="2"/><rect x="300" y="213" width="2" height="2"/><rect x="307" y="213" width="2" height="2"/><rect x="310" y="213" width="2" height="2"/><rect x="313" y="213" width="2" height="2"/><rect x="326" y="213" width="2" height="2"/><rect x="346" y="213" width="2" height="2"/><rect x="349" y="213" width="2" height="2"/><rect x="150" y="217" width="2" height="2"/><rect x="153" y="217" width="2" height="2"/><rect x="163" y="217" width="2" height="2"/><rect x="170" y="217" width="2" height="2"/><rect x="173" y="217" width="2" height="2"/><rect x="176" y="217" width="2" height="2"/><rect x="183" y="217" width="2" height="2"/><rect x="186" y="217" width="2" height="2"/><rect x="189" y="217" width="2" height="2"/><rect x="192" y="217" width="2" height="2"/><rect x="196" y="217" width="2" height="2"/><rect x="199" y="217" width="2" height="2"/><rect x="202" y="217" width="2" height="2"/><rect x="206" y="217" width="2" height="2"/><rect x="209" y="217" width="2" height="2"/><rect x="212" y="217" width="2" height="2"/><rect x="215" y="217" width="2" height="2"/><rect x="219" y="217" width="2" height="2"/><rect x="222" y="217" width="2" height="2"/><rect x="225" y="217" width="2" height="2"/><rect x="228" y="217" width="2" height="2"/><rect x="231" y="216" width="3" height="3"/><rect x="235" y="217" width="2" height="2"/><rect x="238" y="217" width="2" height="2"/><rect x="241" y="217" width="2" height="2"/><rect x="245" y="217" width="2" height="2"/><rect x="248" y="217" width="2" height="2"/><rect x="251" y="217" width="2" height="2"/><rect x="255" y="217" width="2" height="2"/><rect x="258" y="217" width="2" height="2"/><rect x="261" y="217" width="2" height="2"/><rect x="264" y="217" width="2" height="2"/><rect x="268" y="217" width="2" height="2"/><rect x="271" y="217" width="2" height="2"/><rect x="274" y="217" width="2" height="2"/><rect x="277" y="217" width="2" height="2"/><rect x="281" y="217" width="2" height="2"/><rect x="284" y="217" width="2" height="2"/><rect x="287" y="217" width="2" height="2"/><rect x="290" y="217" width="2" height="2"/><rect x="297" y="217" width="2" height="2"/><rect x="300" y="217" width="2" height="2"/><rect x="304" y="217" width="2" height="2"/><rect x="307" y="217" width="2" height="2"/><rect x="310" y="217" width="2" height="2"/><rect x="313" y="217" width="2" height="2"/><rect x="317" y="217" width="2" height="2"/><rect x="320" y="217" width="2" height="2"/><rect x="323" y="217" width="2" height="2"/><rect x="339" y="217" width="2" height="2"/><rect x="163" y="220" width="2" height="2"/><rect x="166" y="220" width="2" height="2"/><rect x="170" y="220" width="2" height="2"/><rect x="179" y="220" width="2" height="2"/><rect x="183" y="220" width="2" height="2"/><rect x="186" y="220" width="2" height="2"/><rect x="189" y="220" width="2" height="2"/><rect x="192" y="220" width="2" height="2"/><rect x="196" y="220" width="2" height="2"/><rect x="199" y="220" width="2" height="2"/><rect x="202" y="220" width="2" height="2"/><rect x="206" y="220" width="2" height="2"/><rect x="209" y="220" width="2" height="2"/><rect x="212" y="220" width="2" height="2"/><rect x="215" y="220" width="2" height="2"/><rect x="218" y="220" width="3" height="2"/><rect x="222" y="220" width="2" height="2"/><rect x="225" y="220" width="2" height="2"/><rect x="228" y="220" width="2" height="2"/><rect x="232" y="220" width="2" height="2"/><rect x="235" y="220" width="2" height="2"/><rect x="238" y="220" width="2" height="2"/><rect x="241" y="220" width="2" height="2"/><rect x="245" y="220" width="2" height="2"/><rect x="248" y="220" width="2" height="2"/><rect x="251" y="220" width="2" height="2"/><rect x="255" y="220" width="2" height="2"/><rect x="258" y="220" width="2" height="2"/><rect x="261" y="220" width="2" height="2"/><rect x="264" y="220" width="2" height="2"/><rect x="268" y="220" width="2" height="2"/><rect x="271" y="220" width="2" height="2"/><rect x="274" y="220" width="2" height="2"/><rect x="277" y="220" width="2" height="2"/><rect x="281" y="220" width="2" height="2"/><rect x="284" y="220" width="2" height="2"/><rect x="287" y="220" width="2" height="2"/><rect x="290" y="220" width="2" height="2"/><rect x="294" y="220" width="2" height="2"/><rect x="300" y="220" width="2" height="2"/><rect x="304" y="220" width="2" height="2"/><rect x="310" y="220" width="2" height="2"/><rect x="317" y="220" width="2" height="2"/><rect x="320" y="220" width="2" height="2"/><rect x="333" y="220" width="2" height="2"/><rect x="346" y="220" width="2" height="2"/><rect x="349" y="220" width="2" height="2"/><rect x="356" y="220" width="2" height="2"/><rect x="81" y="223" width="2" height="2"/><rect x="153" y="223" width="2" height="2"/><rect x="163" y="223" width="2" height="2"/><rect x="173" y="223" width="2" height="2"/><rect x="176" y="223" width="2" height="2"/><rect x="179" y="223" width="2" height="2"/><rect x="183" y="223" width="2" height="2"/><rect x="186" y="223" width="2" height="2"/><rect x="189" y="223" width="2" height="2"/><rect x="192" y="223" width="2" height="2"/><rect x="196" y="223" width="2" height="2"/><rect x="199" y="223" width="2" height="2"/><rect x="202" y="223" width="2" height="2"/><rect x="206" y="223" width="2" height="2"/><rect x="209" y="223" width="2" height="2"/><rect x="212" y="223" width="2" height="2"/><rect x="215" y="223" width="2" height="2"/><rect x="219" y="223" width="2" height="2"/><rect x="222" y="223" width="2" height="2"/><rect x="225" y="223" width="2" height="2"/><rect x="228" y="223" width="2" height="2"/><rect x="232" y="223" width="2" height="2"/><rect x="235" y="223" width="2" height="2"/><rect x="238" y="223" width="2" height="2"/><rect x="241" y="223" width="2" height="2"/><rect x="245" y="223" width="2" height="2"/><rect x="248" y="223" width="2" height="2"/><rect x="251" y="223" width="2" height="2"/><rect x="254" y="223" width="3" height="2"/><rect x="258" y="223" width="2" height="2"/><rect x="261" y="223" width="2" height="2"/><rect x="264" y="223" width="2" height="2"/><rect x="268" y="223" width="2" height="2"/><rect x="271" y="223" width="2" height="2"/><rect x="274" y="223" width="2" height="2"/><rect x="277" y="223" width="2" height="2"/><rect x="281" y="223" width="2" height="2"/><rect x="284" y="223" width="2" height="2"/><rect x="287" y="223" width="2" height="2"/><rect x="290" y="223" width="2" height="2"/><rect x="294" y="223" width="2" height="2"/><rect x="297" y="223" width="2" height="2"/><rect x="300" y="223" width="2" height="2"/><rect x="304" y="223" width="2" height="2"/><rect x="307" y="223" width="2" height="2"/><rect x="313" y="223" width="2" height="2"/><rect x="317" y="223" width="2" height="2"/><rect x="320" y="223" width="2" height="2"/><rect x="349" y="223" width="2" height="2"/><rect x="353" y="223" width="2" height="2"/><rect x="356" y="223" width="2" height="2"/><rect x="153" y="227" width="2" height="2"/><rect x="157" y="227" width="2" height="2"/><rect x="160" y="227" width="2" height="2"/><rect x="170" y="227" width="2" height="2"/><rect x="173" y="227" width="2" height="2"/><rect x="179" y="227" width="2" height="2"/><rect x="183" y="227" width="2" height="2"/><rect x="186" y="227" width="2" height="2"/><rect x="189" y="227" width="2" height="2"/><rect x="192" y="227" width="2" height="2"/><rect x="196" y="227" width="2" height="2"/><rect x="199" y="227" width="2" height="2"/><rect x="202" y="227" width="2" height="2"/><rect x="206" y="227" width="2" height="2"/><rect x="209" y="227" width="2" height="2"/><rect x="212" y="227" width="2" height="2"/><rect x="215" y="227" width="2" height="2"/><rect x="219" y="227" width="2" height="2"/><rect x="222" y="226" width="2" height="3"/><rect x="225" y="227" width="2" height="2"/><rect x="228" y="226" width="2" height="3"/><rect x="231" y="227" width="3" height="2"/><rect x="235" y="227" width="2" height="2"/><rect x="238" y="226" width="2" height="3"/><rect x="241" y="227" width="2" height="2"/><rect x="244" y="226" width="3" height="3"/><rect x="248" y="227" width="2" height="2"/><rect x="251" y="227" width="2" height="2"/><rect x="255" y="227" width="2" height="2"/><rect x="258" y="226" width="2" height="3"/><rect x="261" y="227" width="2" height="2"/><rect x="264" y="227" width="2" height="2"/><rect x="267" y="226" width="3" height="3"/><rect x="271" y="227" width="2" height="2"/><rect x="274" y="227" width="2" height="2"/><rect x="277" y="227" width="2" height="2"/><rect x="281" y="227" width="2" height="2"/><rect x="284" y="227" width="2" height="2"/><rect x="287" y="226" width="2" height="3"/><rect x="290" y="227" width="2" height="2"/><rect x="294" y="226" width="2" height="3"/><rect x="297" y="227" width="2" height="2"/><rect x="300" y="227" width="2" height="2"/><rect x="304" y="227" width="2" height="2"/><rect x="307" y="227" width="2" height="2"/><rect x="313" y="227" width="2" height="2"/><rect x="317" y="227" width="2" height="2"/><rect x="320" y="227" width="2" height="2"/><rect x="326" y="227" width="2" height="2"/><rect x="336" y="227" width="2" height="2"/><rect x="339" y="227" width="2" height="2"/><rect x="415" y="227" width="2" height="2"/><rect x="137" y="230" width="2" height="2"/><rect x="143" y="230" width="2" height="2"/><rect x="160" y="230" width="2" height="2"/><rect x="163" y="230" width="2" height="2"/><rect x="170" y="230" width="2" height="2"/><rect x="176" y="230" width="2" height="2"/><rect x="183" y="230" width="2" height="2"/><rect x="186" y="230" width="2" height="2"/><rect x="189" y="230" width="2" height="2"/><rect x="192" y="230" width="2" height="2"/><rect x="196" y="230" width="2" height="2"/><rect x="199" y="230" width="2" height="2"/><rect x="202" y="230" width="2" height="2"/><rect x="206" y="230" width="2" height="2"/><rect x="209" y="230" width="2" height="2"/><rect x="212" y="230" width="2" height="2"/><rect x="215" y="230" width="2" height="2"/><rect x="218" y="230" width="3" height="2"/><rect x="222" y="230" width="2" height="2"/><rect x="225" y="230" width="2" height="2"/><rect x="228" y="230" width="2" height="2"/><rect x="231" y="230" width="3" height="2"/><rect x="235" y="230" width="2" height="2"/><rect x="238" y="230" width="2" height="2"/><rect x="241" y="230" width="3" height="2"/><rect x="245" y="230" width="2" height="2"/><rect x="248" y="230" width="2" height="2"/><rect x="251" y="230" width="2" height="2"/><rect x="255" y="230" width="2" height="2"/><rect x="257" y="230" width="3" height="2"/><rect x="261" y="230" width="2" height="2"/><rect x="264" y="230" width="2" height="2"/><rect x="267" y="230" width="3" height="2"/><rect x="271" y="230" width="2" height="2"/><rect x="274" y="230" width="2" height="2"/><rect x="277" y="230" width="2" height="2"/><rect x="281" y="230" width="2" height="2"/><rect x="284" y="230" width="2" height="2"/><rect x="287" y="230" width="2" height="2"/><rect x="290" y="230" width="2" height="2"/><rect x="294" y="230" width="2" height="2"/><rect x="297" y="230" width="2" height="2"/><rect x="300" y="230" width="2" height="2"/><rect x="304" y="230" width="2" height="2"/><rect x="307" y="230" width="2" height="2"/><rect x="310" y="230" width="2" height="2"/><rect x="313" y="230" width="2" height="2"/><rect x="317" y="230" width="2" height="2"/><rect x="320" y="230" width="2" height="2"/><rect x="323" y="230" width="2" height="2"/><rect x="326" y="230" width="2" height="2"/><rect x="333" y="230" width="2" height="2"/><rect x="336" y="230" width="2" height="2"/><rect x="339" y="230" width="2" height="2"/><rect x="359" y="230" width="2" height="2"/><rect x="379" y="230" width="2" height="2"/><rect x="153" y="233" width="2" height="2"/><rect x="157" y="233" width="2" height="2"/><rect x="166" y="233" width="2" height="2"/><rect x="170" y="233" width="2" height="2"/><rect x="173" y="233" width="2" height="2"/><rect x="176" y="233" width="2" height="2"/><rect x="179" y="233" width="2" height="2"/><rect x="183" y="233" width="2" height="2"/><rect x="186" y="233" width="2" height="2"/><rect x="189" y="233" width="2" height="2"/><rect x="192" y="233" width="2" height="2"/><rect x="196" y="233" width="2" height="2"/><rect x="199" y="233" width="2" height="2"/><rect x="202" y="233" width="2" height="2"/><rect x="206" y="233" width="2" height="2"/><rect x="209" y="233" width="2" height="2"/><rect x="212" y="233" width="2" height="2"/><rect x="215" y="233" width="2" height="2"/><rect x="218" y="233" width="3" height="2"/><rect x="222" y="233" width="2" height="2"/><rect x="225" y="233" width="2" height="2"/><rect x="228" y="233" width="3" height="2"/><rect x="231" y="233" width="3" height="2"/><rect x="234" y="233" width="3" height="2"/><rect x="238" y="233" width="2" height="2"/><rect x="241" y="233" width="3" height="2"/><rect x="244" y="233" width="3" height="2"/><rect x="248" y="233" width="2" height="2"/><rect x="251" y="233" width="2" height="2"/><rect x="255" y="233" width="2" height="2"/><rect x="258" y="233" width="2" height="2"/><rect x="261" y="233" width="2" height="2"/><rect x="264" y="233" width="2" height="2"/><rect x="268" y="233" width="2" height="2"/><rect x="271" y="233" width="2" height="2"/><rect x="274" y="233" width="2" height="2"/><rect x="277" y="233" width="2" height="2"/><rect x="280" y="233" width="3" height="2"/><rect x="284" y="233" width="2" height="2"/><rect x="287" y="233" width="2" height="2"/><rect x="290" y="233" width="2" height="2"/><rect x="294" y="233" width="2" height="2"/><rect x="297" y="233" width="2" height="2"/><rect x="300" y="233" width="2" height="2"/><rect x="304" y="233" width="2" height="2"/><rect x="307" y="233" width="2" height="2"/><rect x="310" y="233" width="2" height="2"/><rect x="313" y="233" width="2" height="2"/><rect x="317" y="233" width="2" height="2"/><rect x="320" y="233" width="2" height="2"/><rect x="323" y="233" width="2" height="2"/><rect x="326" y="233" width="2" height="2"/><rect x="330" y="233" width="2" height="2"/><rect x="343" y="233" width="2" height="2"/><rect x="356" y="233" width="2" height="2"/><rect x="153" y="237" width="2" height="2"/><rect x="157" y="237" width="2" height="2"/><rect x="160" y="237" width="2" height="2"/><rect x="170" y="237" width="2" height="2"/><rect x="173" y="237" width="2" height="2"/><rect x="176" y="237" width="2" height="2"/><rect x="179" y="237" width="2" height="2"/><rect x="183" y="237" width="2" height="2"/><rect x="186" y="237" width="2" height="2"/><rect x="189" y="237" width="2" height="2"/><rect x="192" y="237" width="2" height="2"/><rect x="196" y="237" width="2" height="2"/><rect x="199" y="237" width="2" height="2"/><rect x="202" y="237" width="2" height="2"/><rect x="206" y="237" width="2" height="2"/><rect x="209" y="237" width="2" height="2"/><rect x="212" y="237" width="2" height="2"/><rect x="215" y="237" width="2" height="2"/><rect x="218" y="237" width="3" height="2"/><rect x="222" y="237" width="2" height="2"/><rect x="225" y="236" width="2" height="3"/><rect x="228" y="236" width="2" height="3"/><rect x="231" y="236" width="3" height="3"/><rect x="235" y="236" width="2" height="3"/><rect x="238" y="236" width="2" height="3"/><rect x="241" y="236" width="3" height="3"/><rect x="244" y="236" width="3" height="3"/><rect x="248" y="236" width="2" height="3"/><rect x="251" y="236" width="2" height="3"/><rect x="254" y="236" width="3" height="3"/><rect x="257" y="236" width="3" height="3"/><rect x="261" y="236" width="2" height="3"/><rect x="264" y="237" width="2" height="2"/><rect x="267" y="237" width="3" height="2"/><rect x="271" y="237" width="2" height="2"/><rect x="274" y="237" width="2" height="2"/><rect x="277" y="237" width="2" height="2"/><rect x="280" y="237" width="3" height="2"/><rect x="284" y="237" width="2" height="2"/><rect x="287" y="237" width="2" height="2"/><rect x="290" y="237" width="2" height="2"/><rect x="294" y="237" width="2" height="2"/><rect x="297" y="237" width="2" height="2"/><rect x="300" y="237" width="2" height="2"/><rect x="303" y="237" width="3" height="2"/><rect x="307" y="237" width="2" height="2"/><rect x="313" y="237" width="2" height="2"/><rect x="317" y="237" width="2" height="2"/><rect x="320" y="237" width="2" height="2"/><rect x="323" y="237" width="2" height="2"/><rect x="326" y="237" width="2" height="2"/><rect x="336" y="237" width="2" height="2"/><rect x="157" y="240" width="2" height="2"/><rect x="160" y="240" width="2" height="2"/><rect x="163" y="240" width="2" height="2"/><rect x="166" y="240" width="2" height="2"/><rect x="179" y="240" width="2" height="2"/><rect x="183" y="240" width="2" height="2"/><rect x="186" y="240" width="2" height="2"/><rect x="189" y="240" width="2" height="2"/><rect x="192" y="240" width="2" height="2"/><rect x="196" y="240" width="2" height="2"/><rect x="199" y="240" width="2" height="2"/><rect x="202" y="239" width="2" height="3"/><rect x="205" y="239" width="3" height="3"/><rect x="209" y="240" width="2" height="2"/><rect x="212" y="240" width="2" height="2"/><rect x="215" y="240" width="2" height="2"/><rect x="218" y="239" width="3" height="3"/><rect x="222" y="239" width="2" height="3"/><rect x="225" y="239" width="2" height="3"/><rect x="228" y="239" width="2" height="3"/><rect x="231" y="239" width="3" height="3"/><rect x="235" y="239" width="2" height="3"/><rect x="238" y="239" width="2" height="3"/><rect x="241" y="239" width="3" height="3"/><rect x="244" y="239" width="3" height="3"/><rect x="248" y="239" width="2" height="3"/><rect x="251" y="239" width="2" height="3"/><rect x="254" y="239" width="3" height="3"/><rect x="258" y="239" width="2" height="3"/><rect x="261" y="239" width="2" height="3"/><rect x="264" y="239" width="2" height="3"/><rect x="267" y="239" width="3" height="3"/><rect x="271" y="240" width="2" height="2"/><rect x="274" y="239" width="2" height="3"/><rect x="277" y="240" width="2" height="2"/><rect x="281" y="240" width="2" height="2"/><rect x="284" y="240" width="2" height="2"/><rect x="287" y="240" width="2" height="2"/><rect x="290" y="240" width="2" height="2"/><rect x="294" y="240" width="2" height="2"/><rect x="297" y="240" width="2" height="2"/><rect x="300" y="240" width="2" height="2"/><rect x="304" y="240" width="2" height="2"/><rect x="307" y="240" width="2" height="2"/><rect x="310" y="240" width="2" height="2"/><rect x="313" y="240" width="2" height="2"/><rect x="317" y="240" width="2" height="2"/><rect x="320" y="240" width="2" height="2"/><rect x="326" y="240" width="2" height="2"/><rect x="330" y="240" width="2" height="2"/><rect x="333" y="240" width="2" height="2"/><rect x="336" y="240" width="2" height="2"/><rect x="343" y="240" width="2" height="2"/><rect x="346" y="240" width="2" height="2"/><rect x="349" y="240" width="2" height="2"/><rect x="353" y="240" width="2" height="2"/><rect x="359" y="240" width="2" height="2"/><rect x="134" y="243" width="2" height="2"/><rect x="143" y="243" width="2" height="2"/><rect x="150" y="243" width="2" height="2"/><rect x="153" y="243" width="2" height="2"/><rect x="157" y="243" width="2" height="2"/><rect x="160" y="243" width="2" height="2"/><rect x="163" y="243" width="2" height="2"/><rect x="166" y="243" width="2" height="2"/><rect x="170" y="243" width="2" height="2"/><rect x="173" y="243" width="2" height="2"/><rect x="176" y="243" width="2" height="2"/><rect x="179" y="243" width="2" height="2"/><rect x="183" y="243" width="2" height="2"/><rect x="186" y="243" width="2" height="2"/><rect x="189" y="243" width="2" height="2"/><rect x="192" y="243" width="2" height="2"/><rect x="196" y="243" width="2" height="2"/><rect x="199" y="243" width="2" height="2"/><rect x="202" y="243" width="2" height="2"/><rect x="205" y="243" width="3" height="2"/><rect x="209" y="243" width="2" height="2"/><rect x="212" y="243" width="2" height="2"/><rect x="215" y="243" width="2" height="2"/><rect x="218" y="243" width="3" height="2"/><rect x="221" y="243" width="3" height="2"/><rect x="225" y="243" width="2" height="2"/><rect x="228" y="243" width="3" height="2"/><rect x="231" y="243" width="3" height="2"/><rect x="234" y="242" width="3" height="3"/><rect x="238" y="242" width="2" height="3"/><rect x="241" y="243" width="3" height="2"/><rect x="244" y="243" width="3" height="2"/><rect x="248" y="243" width="2" height="2"/><rect x="251" y="242" width="3" height="3"/><rect x="254" y="243" width="3" height="2"/><rect x="258" y="243" width="2" height="2"/><rect x="261" y="243" width="2" height="2"/><rect x="264" y="243" width="3" height="2"/><rect x="267" y="243" width="3" height="2"/><rect x="270" y="243" width="3" height="2"/><rect x="274" y="243" width="2" height="2"/><rect x="277" y="243" width="2" height="2"/><rect x="280" y="243" width="3" height="2"/><rect x="284" y="243" width="2" height="2"/><rect x="287" y="243" width="2" height="2"/><rect x="290" y="243" width="2" height="2"/><rect x="294" y="243" width="2" height="2"/><rect x="297" y="243" width="2" height="2"/><rect x="300" y="243" width="2" height="2"/><rect x="304" y="243" width="2" height="2"/><rect x="307" y="243" width="2" height="2"/><rect x="310" y="243" width="2" height="2"/><rect x="313" y="243" width="2" height="2"/><rect x="317" y="243" width="2" height="2"/><rect x="320" y="243" width="2" height="2"/><rect x="323" y="243" width="2" height="2"/><rect x="326" y="243" width="2" height="2"/><rect x="330" y="243" width="2" height="2"/><rect x="333" y="243" width="2" height="2"/><rect x="339" y="243" width="2" height="2"/><rect x="343" y="243" width="2" height="2"/><rect x="346" y="243" width="2" height="2"/><rect x="366" y="243" width="2" height="2"/><rect x="130" y="246" width="2" height="2"/><rect x="140" y="246" width="2" height="2"/><rect x="147" y="246" width="2" height="2"/><rect x="150" y="246" width="2" height="2"/><rect x="153" y="246" width="2" height="2"/><rect x="157" y="246" width="2" height="2"/><rect x="160" y="246" width="2" height="2"/><rect x="163" y="246" width="2" height="2"/><rect x="166" y="246" width="2" height="2"/><rect x="170" y="246" width="2" height="2"/><rect x="173" y="246" width="2" height="2"/><rect x="176" y="246" width="2" height="2"/><rect x="179" y="246" width="2" height="2"/><rect x="183" y="246" width="2" height="2"/><rect x="186" y="246" width="2" height="2"/><rect x="189" y="246" width="2" height="2"/><rect x="192" y="246" width="2" height="2"/><rect x="196" y="246" width="2" height="2"/><rect x="199" y="246" width="2" height="2"/><rect x="202" y="246" width="2" height="2"/><rect x="205" y="246" width="3" height="2"/><rect x="208" y="246" width="3" height="2"/><rect x="211" y="246" width="3" height="2"/><rect x="215" y="245" width="3" height="4"/><rect x="218" y="245" width="3" height="4"/><rect x="221" y="245" width="3" height="4"/><rect x="225" y="246" width="2" height="2"/><rect x="228" y="245" width="3" height="4"/><rect x="231" y="246" width="3" height="2"/><rect x="235" y="245" width="2" height="3"/><rect x="238" y="245" width="2" height="3"/><rect x="241" y="245" width="3" height="4"/><rect x="244" y="245" width="3" height="4"/><rect x="247" y="245" width="3" height="4"/><rect x="251" y="246" width="3" height="2"/><rect x="254" y="246" width="3" height="2"/><rect x="257" y="245" width="3" height="4"/><rect x="261" y="246" width="2" height="2"/><rect x="264" y="246" width="2" height="2"/><rect x="267" y="246" width="3" height="2"/><rect x="270" y="245" width="3" height="3"/><rect x="274" y="246" width="2" height="2"/><rect x="277" y="246" width="3" height="2"/><rect x="280" y="246" width="3" height="2"/><rect x="284" y="246" width="2" height="2"/><rect x="287" y="246" width="2" height="2"/><rect x="290" y="246" width="2" height="2"/><rect x="294" y="246" width="2" height="2"/><rect x="297" y="246" width="2" height="2"/><rect x="300" y="246" width="2" height="2"/><rect x="304" y="246" width="2" height="2"/><rect x="307" y="246" width="2" height="2"/><rect x="310" y="246" width="2" height="2"/><rect x="313" y="246" width="2" height="2"/><rect x="317" y="246" width="2" height="2"/><rect x="320" y="246" width="2" height="2"/><rect x="323" y="246" width="2" height="2"/><rect x="326" y="246" width="2" height="2"/><rect x="330" y="246" width="2" height="2"/><rect x="333" y="246" width="2" height="2"/><rect x="336" y="246" width="2" height="2"/><rect x="339" y="246" width="2" height="2"/><rect x="343" y="246" width="2" height="2"/><rect x="346" y="246" width="2" height="2"/><rect x="349" y="246" width="2" height="2"/><rect x="143" y="250" width="2" height="2"/><rect x="150" y="250" width="2" height="2"/><rect x="153" y="250" width="2" height="2"/><rect x="160" y="250" width="2" height="2"/><rect x="163" y="250" width="2" height="2"/><rect x="166" y="250" width="2" height="2"/><rect x="170" y="250" width="2" height="2"/><rect x="173" y="250" width="2" height="2"/><rect x="176" y="250" width="2" height="2"/><rect x="179" y="250" width="2" height="2"/><rect x="183" y="250" width="2" height="2"/><rect x="186" y="250" width="2" height="2"/><rect x="189" y="250" width="2" height="2"/><rect x="192" y="249" width="3" height="3"/><rect x="196" y="249" width="2" height="3"/><rect x="199" y="249" width="2" height="3"/><rect x="202" y="249" width="2" height="3"/><rect x="205" y="249" width="3" height="3"/><rect x="208" y="249" width="3" height="3"/><rect x="212" y="249" width="2" height="3"/><rect x="215" y="249" width="3" height="3"/><rect x="218" y="249" width="3" height="3"/><rect x="221" y="249" width="3" height="3"/><rect x="225" y="249" width="2" height="3"/><rect x="228" y="249" width="3" height="3"/><rect x="231" y="249" width="3" height="3"/><rect x="234" y="249" width="3" height="3"/><rect x="238" y="249" width="2" height="3"/><rect x="241" y="249" width="3" height="3"/><rect x="244" y="249" width="3" height="3"/><rect x="247" y="249" width="4" height="3"/><rect x="251" y="249" width="3" height="3"/><rect x="254" y="249" width="3" height="3"/><rect x="257" y="249" width="3" height="3"/><rect x="261" y="249" width="2" height="3"/><rect x="264" y="249" width="2" height="3"/><rect x="267" y="249" width="3" height="3"/><rect x="271" y="249" width="2" height="3"/><rect x="274" y="249" width="2" height="3"/><rect x="277" y="249" width="2" height="3"/><rect x="280" y="249" width="3" height="3"/><rect x="284" y="249" width="2" height="3"/><rect x="287" y="250" width="2" height="2"/><rect x="290" y="249" width="3" height="3"/><rect x="294" y="250" width="2" height="2"/><rect x="297" y="250" width="2" height="2"/><rect x="300" y="250" width="2" height="2"/><rect x="304" y="249" width="2" height="3"/><rect x="307" y="250" width="2" height="2"/><rect x="310" y="250" width="2" height="2"/><rect x="313" y="250" width="2" height="2"/><rect x="317" y="250" width="2" height="2"/><rect x="320" y="250" width="2" height="2"/><rect x="323" y="250" width="2" height="2"/><rect x="326" y="250" width="2" height="2"/><rect x="330" y="250" width="2" height="2"/><rect x="333" y="250" width="2" height="2"/><rect x="336" y="250" width="2" height="2"/><rect x="339" y="250" width="2" height="2"/><rect x="343" y="250" width="2" height="2"/><rect x="346" y="250" width="2" height="2"/><rect x="353" y="250" width="2" height="2"/><rect x="375" y="250" width="2" height="2"/><rect x="124" y="253" width="2" height="2"/><rect x="134" y="253" width="2" height="2"/><rect x="137" y="253" width="2" height="2"/><rect x="147" y="253" width="2" height="2"/><rect x="157" y="253" width="2" height="2"/><rect x="160" y="253" width="2" height="2"/><rect x="166" y="253" width="2" height="2"/><rect x="170" y="253" width="2" height="2"/><rect x="173" y="253" width="2" height="2"/><rect x="176" y="253" width="2" height="2"/><rect x="179" y="253" width="2" height="2"/><rect x="183" y="253" width="2" height="2"/><rect x="186" y="253" width="2" height="2"/><rect x="189" y="253" width="2" height="2"/><rect x="192" y="253" width="3" height="2"/><rect x="195" y="253" width="3" height="2"/><rect x="199" y="253" width="2" height="2"/><rect x="202" y="253" width="2" height="2"/><rect x="205" y="253" width="3" height="2"/><rect x="208" y="252" width="3" height="3"/><rect x="212" y="252" width="2" height="3"/><rect x="215" y="252" width="3" height="3"/><rect x="218" y="252" width="3" height="3"/><rect x="221" y="252" width="3" height="3"/><rect x="225" y="252" width="2" height="3"/><rect x="228" y="252" width="3" height="3"/><rect x="231" y="252" width="3" height="3"/><rect x="234" y="252" width="4" height="3"/><rect x="238" y="252" width="3" height="3"/><rect x="241" y="252" width="3" height="3"/><rect x="244" y="252" width="3" height="3"/><rect x="247" y="252" width="4" height="3"/><rect x="251" y="252" width="3" height="3"/><rect x="254" y="252" width="3" height="3"/><rect x="257" y="252" width="3" height="3"/><rect x="260" y="252" width="4" height="3"/><rect x="264" y="252" width="3" height="3"/><rect x="267" y="252" width="3" height="3"/><rect x="270" y="253" width="3" height="2"/><rect x="274" y="252" width="2" height="3"/><rect x="277" y="252" width="3" height="3"/><rect x="280" y="252" width="3" height="3"/><rect x="284" y="253" width="2" height="2"/><rect x="287" y="253" width="2" height="2"/><rect x="290" y="253" width="3" height="2"/><rect x="293" y="253" width="3" height="2"/><rect x="297" y="253" width="2" height="2"/><rect x="300" y="253" width="2" height="2"/><rect x="304" y="253" width="2" height="2"/><rect x="307" y="253" width="2" height="2"/><rect x="310" y="253" width="2" height="2"/><rect x="313" y="253" width="2" height="2"/><rect x="317" y="253" width="2" height="2"/><rect x="320" y="253" width="2" height="2"/><rect x="323" y="253" width="2" height="2"/><rect x="326" y="253" width="2" height="2"/><rect x="330" y="253" width="2" height="2"/><rect x="336" y="253" width="2" height="2"/><rect x="339" y="253" width="2" height="2"/><rect x="343" y="253" width="2" height="2"/><rect x="346" y="253" width="2" height="2"/><rect x="372" y="253" width="2" height="2"/><rect x="134" y="256" width="2" height="2"/><rect x="137" y="256" width="2" height="2"/><rect x="143" y="256" width="2" height="2"/><rect x="147" y="256" width="2" height="2"/><rect x="150" y="256" width="2" height="2"/><rect x="157" y="256" width="2" height="2"/><rect x="160" y="256" width="2" height="2"/><rect x="163" y="256" width="2" height="2"/><rect x="166" y="256" width="2" height="2"/><rect x="170" y="256" width="2" height="2"/><rect x="173" y="256" width="2" height="2"/><rect x="176" y="256" width="2" height="2"/><rect x="179" y="256" width="2" height="2"/><rect x="183" y="256" width="2" height="2"/><rect x="186" y="256" width="2" height="2"/><rect x="189" y="256" width="2" height="2"/><rect x="192" y="256" width="3" height="2"/><rect x="195" y="256" width="3" height="2"/><rect x="199" y="256" width="2" height="2"/><rect x="202" y="256" width="2" height="2"/><rect x="206" y="256" width="2" height="2"/><rect x="208" y="255" width="3" height="4"/><rect x="211" y="255" width="4" height="4"/><rect x="215" y="255" width="3" height="4"/><rect x="218" y="255" width="3" height="4"/><rect x="221" y="255" width="4" height="4"/><rect x="225" y="255" width="3" height="4"/><rect x="228" y="255" width="3" height="4"/><rect x="231" y="255" width="3" height="4"/><rect x="234" y="255" width="4" height="4"/><rect x="238" y="255" width="3" height="4"/><rect x="241" y="255" width="3" height="4"/><rect x="244" y="255" width="3" height="4"/><rect x="247" y="255" width="4" height="4"/><rect x="251" y="255" width="3" height="4"/><rect x="254" y="255" width="3" height="4"/><rect x="257" y="255" width="3" height="4"/><rect x="260" y="255" width="4" height="4"/><rect x="264" y="255" width="3" height="4"/><rect x="267" y="255" width="3" height="4"/><rect x="270" y="255" width="3" height="4"/><rect x="274" y="255" width="2" height="3"/><rect x="277" y="255" width="3" height="4"/><rect x="280" y="255" width="3" height="4"/><rect x="283" y="256" width="3" height="2"/><rect x="287" y="256" width="2" height="2"/><rect x="290" y="256" width="2" height="2"/><rect x="294" y="256" width="2" height="2"/><rect x="297" y="256" width="2" height="2"/><rect x="300" y="256" width="2" height="2"/><rect x="304" y="256" width="2" height="2"/><rect x="307" y="256" width="2" height="2"/><rect x="310" y="256" width="2" height="2"/><rect x="313" y="256" width="2" height="2"/><rect x="317" y="256" width="2" height="2"/><rect x="320" y="256" width="2" height="2"/><rect x="323" y="256" width="2" height="2"/><rect x="326" y="256" width="2" height="2"/><rect x="330" y="256" width="2" height="2"/><rect x="333" y="256" width="2" height="2"/><rect x="336" y="256" width="2" height="2"/><rect x="343" y="256" width="2" height="2"/><rect x="346" y="256" width="2" height="2"/><rect x="349" y="256" width="2" height="2"/><rect x="353" y="256" width="2" height="2"/><rect x="137" y="260" width="2" height="2"/><rect x="147" y="260" width="2" height="2"/><rect x="150" y="260" width="2" height="2"/><rect x="153" y="260" width="2" height="2"/><rect x="157" y="260" width="2" height="2"/><rect x="160" y="260" width="2" height="2"/><rect x="163" y="260" width="2" height="2"/><rect x="166" y="260" width="2" height="2"/><rect x="170" y="260" width="2" height="2"/><rect x="173" y="260" width="2" height="2"/><rect x="176" y="259" width="2" height="3"/><rect x="179" y="260" width="2" height="2"/><rect x="182" y="259" width="3" height="3"/><rect x="186" y="260" width="2" height="2"/><rect x="189" y="259" width="2" height="3"/><rect x="192" y="259" width="3" height="3"/><rect x="195" y="259" width="3" height="3"/><rect x="199" y="259" width="2" height="3"/><rect x="202" y="259" width="3" height="3"/><rect x="205" y="259" width="3" height="3"/><rect x="208" y="259" width="3" height="3"/><rect x="211" y="259" width="4" height="3"/><rect x="215" y="259" width="3" height="3"/><rect x="218" y="259" width="3" height="3"/><rect x="221" y="259" width="4" height="3"/><rect x="225" y="259" width="3" height="3"/><rect x="228" y="259" width="3" height="3"/><rect x="231" y="259" width="3" height="3"/><rect x="234" y="259" width="4" height="3"/><rect x="238" y="259" width="3" height="3"/><rect x="241" y="259" width="3" height="3"/><rect x="244" y="259" width="3" height="3"/><rect x="247" y="259" width="4" height="3"/><rect x="251" y="259" width="3" height="3"/><rect x="254" y="259" width="3" height="3"/><rect x="257" y="259" width="3" height="3"/><rect x="260" y="259" width="4" height="3"/><rect x="264" y="259" width="3" height="3"/><rect x="267" y="259" width="3" height="3"/><rect x="270" y="259" width="3" height="3"/><rect x="274" y="259" width="2" height="3"/><rect x="277" y="259" width="3" height="3"/><rect x="280" y="259" width="3" height="3"/><rect x="283" y="259" width="3" height="3"/><rect x="287" y="259" width="2" height="3"/><rect x="290" y="259" width="3" height="3"/><rect x="293" y="259" width="3" height="3"/><rect x="297" y="259" width="2" height="3"/><rect x="300" y="260" width="2" height="2"/><rect x="304" y="260" width="2" height="2"/><rect x="306" y="259" width="3" height="3"/><rect x="310" y="260" width="2" height="2"/><rect x="313" y="260" width="2" height="2"/><rect x="317" y="260" width="2" height="2"/><rect x="320" y="260" width="2" height="2"/><rect x="323" y="260" width="2" height="2"/><rect x="326" y="260" width="2" height="2"/><rect x="330" y="260" width="2" height="2"/><rect x="333" y="260" width="2" height="2"/><rect x="336" y="260" width="2" height="2"/><rect x="339" y="260" width="2" height="2"/><rect x="343" y="260" width="2" height="2"/><rect x="346" y="260" width="2" height="2"/><rect x="353" y="260" width="2" height="2"/><rect x="359" y="260" width="2" height="2"/><rect x="124" y="263" width="2" height="2"/><rect x="130" y="263" width="2" height="2"/><rect x="134" y="263" width="2" height="2"/><rect x="137" y="263" width="2" height="2"/><rect x="140" y="263" width="2" height="2"/><rect x="143" y="263" width="2" height="2"/><rect x="150" y="263" width="2" height="2"/><rect x="153" y="263" width="2" height="2"/><rect x="157" y="263" width="2" height="2"/><rect x="160" y="263" width="2" height="2"/><rect x="163" y="263" width="2" height="2"/><rect x="166" y="263" width="2" height="2"/><rect x="170" y="263" width="2" height="2"/><rect x="173" y="263" width="2" height="2"/><rect x="176" y="263" width="2" height="2"/><rect x="179" y="263" width="2" height="2"/><rect x="183" y="263" width="2" height="2"/><rect x="186" y="262" width="2" height="3"/><rect x="189" y="262" width="2" height="3"/><rect x="192" y="262" width="3" height="3"/><rect x="195" y="262" width="3" height="3"/><rect x="199" y="262" width="2" height="3"/><rect x="202" y="262" width="3" height="3"/><rect x="205" y="262" width="3" height="3"/><rect x="208" y="262" width="3" height="3"/><rect x="211" y="262" width="4" height="3"/><rect x="215" y="262" width="3" height="3"/><rect x="218" y="262" width="3" height="3"/><rect x="221" y="262" width="4" height="3"/><rect x="225" y="262" width="3" height="3"/><rect x="228" y="262" width="3" height="3"/><rect x="231" y="262" width="3" height="3"/><rect x="234" y="262" width="4" height="3"/><rect x="238" y="262" width="3" height="3"/><rect x="241" y="262" width="3" height="3"/><rect x="244" y="262" width="3" height="3"/><rect x="247" y="262" width="4" height="3"/><rect x="251" y="262" width="3" height="3"/><rect x="254" y="262" width="3" height="3"/><rect x="257" y="262" width="3" height="3"/><rect x="260" y="262" width="4" height="3"/><rect x="264" y="262" width="3" height="3"/><rect x="267" y="262" width="3" height="3"/><rect x="270" y="262" width="4" height="3"/><rect x="274" y="262" width="3" height="3"/><rect x="277" y="262" width="3" height="3"/><rect x="280" y="262" width="3" height="3"/><rect x="283" y="262" width="3" height="3"/><rect x="287" y="262" width="2" height="3"/><rect x="290" y="262" width="3" height="3"/><rect x="293" y="262" width="3" height="3"/><rect x="296" y="262" width="3" height="3"/><rect x="300" y="263" width="2" height="2"/><rect x="303" y="262" width="3" height="3"/><rect x="307" y="263" width="2" height="2"/><rect x="310" y="263" width="2" height="2"/><rect x="313" y="263" width="2" height="2"/><rect x="317" y="263" width="2" height="2"/><rect x="320" y="263" width="2" height="2"/><rect x="323" y="263" width="2" height="2"/><rect x="326" y="263" width="2" height="2"/><rect x="330" y="263" width="2" height="2"/><rect x="333" y="263" width="2" height="2"/><rect x="336" y="263" width="2" height="2"/><rect x="339" y="263" width="2" height="2"/><rect x="343" y="263" width="2" height="2"/><rect x="346" y="263" width="2" height="2"/><rect x="349" y="263" width="2" height="2"/><rect x="356" y="263" width="2" height="2"/><rect x="362" y="263" width="2" height="2"/><rect x="366" y="263" width="2" height="2"/><rect x="111" y="266" width="2" height="2"/><rect x="121" y="266" width="2" height="2"/><rect x="134" y="266" width="2" height="2"/><rect x="137" y="266" width="2" height="2"/><rect x="140" y="266" width="2" height="2"/><rect x="143" y="266" width="2" height="2"/><rect x="150" y="266" width="2" height="2"/><rect x="153" y="266" width="2" height="2"/><rect x="157" y="266" width="2" height="2"/><rect x="160" y="266" width="2" height="2"/><rect x="163" y="266" width="2" height="2"/><rect x="166" y="266" width="2" height="2"/><rect x="170" y="266" width="2" height="2"/><rect x="173" y="266" width="2" height="2"/><rect x="176" y="266" width="2" height="2"/><rect x="179" y="266" width="2" height="2"/><rect x="182" y="266" width="3" height="2"/><rect x="185" y="266" width="3" height="2"/><rect x="189" y="266" width="2" height="2"/><rect x="192" y="266" width="3" height="2"/><rect x="195" y="266" width="3" height="2"/><rect x="198" y="266" width="3" height="2"/><rect x="202" y="266" width="2" height="2"/><rect x="205" y="265" width="3" height="4"/><rect x="208" y="265" width="3" height="4"/><rect x="211" y="265" width="4" height="4"/><rect x="215" y="265" width="3" height="4"/><rect x="218" y="265" width="3" height="4"/><rect x="221" y="265" width="4" height="4"/><rect x="225" y="265" width="3" height="4"/><rect x="228" y="265" width="3" height="4"/><rect x="231" y="265" width="3" height="4"/><rect x="234" y="265" width="4" height="4"/><rect x="238" y="265" width="3" height="4"/><rect x="241" y="265" width="3" height="4"/><rect x="244" y="265" width="3" height="4"/><rect x="247" y="265" width="4" height="4"/><rect x="251" y="265" width="3" height="4"/><rect x="254" y="265" width="3" height="4"/><rect x="257" y="265" width="3" height="4"/><rect x="260" y="265" width="4" height="4"/><rect x="264" y="265" width="3" height="4"/><rect x="267" y="265" width="3" height="4"/><rect x="270" y="265" width="4" height="4"/><rect x="274" y="265" width="3" height="4"/><rect x="277" y="265" width="3" height="4"/><rect x="280" y="265" width="3" height="4"/><rect x="283" y="265" width="3" height="4"/><rect x="287" y="266" width="2" height="2"/><rect x="290" y="266" width="3" height="2"/><rect x="293" y="266" width="3" height="2"/><rect x="296" y="266" width="3" height="2"/><rect x="300" y="266" width="2" height="2"/><rect x="303" y="266" width="3" height="2"/><rect x="307" y="266" width="2" height="2"/><rect x="310" y="266" width="2" height="2"/><rect x="313" y="266" width="2" height="2"/><rect x="317" y="266" width="2" height="2"/><rect x="320" y="266" width="2" height="2"/><rect x="323" y="266" width="2" height="2"/><rect x="326" y="266" width="2" height="2"/><rect x="330" y="266" width="2" height="2"/><rect x="333" y="266" width="2" height="2"/><rect x="336" y="266" width="2" height="2"/><rect x="339" y="266" width="2" height="2"/><rect x="349" y="266" width="2" height="2"/><rect x="366" y="266" width="2" height="2"/><rect x="127" y="270" width="2" height="2"/><rect x="137" y="270" width="2" height="2"/><rect x="140" y="270" width="2" height="2"/><rect x="147" y="270" width="2" height="2"/><rect x="150" y="270" width="2" height="2"/><rect x="153" y="270" width="2" height="2"/><rect x="157" y="270" width="2" height="2"/><rect x="160" y="270" width="2" height="2"/><rect x="163" y="270" width="2" height="2"/><rect x="166" y="270" width="2" height="2"/><rect x="170" y="270" width="2" height="2"/><rect x="173" y="270" width="2" height="2"/><rect x="176" y="270" width="2" height="2"/><rect x="179" y="270" width="2" height="2"/><rect x="183" y="270" width="2" height="2"/><rect x="186" y="270" width="2" height="2"/><rect x="189" y="269" width="2" height="3"/><rect x="192" y="270" width="2" height="2"/><rect x="195" y="269" width="3" height="3"/><rect x="198" y="269" width="4" height="3"/><rect x="202" y="269" width="3" height="3"/><rect x="205" y="269" width="3" height="3"/><rect x="208" y="269" width="3" height="3"/><rect x="211" y="269" width="4" height="3"/><rect x="215" y="269" width="3" height="3"/><rect x="218" y="269" width="3" height="3"/><rect x="221" y="269" width="4" height="3"/><rect x="225" y="269" width="3" height="3"/><rect x="228" y="269" width="3" height="3"/><rect x="231" y="269" width="3" height="3"/><rect x="234" y="269" width="4" height="3"/><rect x="238" y="269" width="3" height="3"/><rect x="241" y="269" width="3" height="3"/><rect x="244" y="269" width="3" height="3"/><rect x="247" y="269" width="4" height="3"/><rect x="251" y="269" width="3" height="3"/><rect x="254" y="269" width="3" height="3"/><rect x="257" y="269" width="3" height="3"/><rect x="260" y="269" width="4" height="3"/><rect x="264" y="269" width="3" height="3"/><rect x="267" y="269" width="3" height="3"/><rect x="270" y="269" width="4" height="3"/><rect x="274" y="269" width="3" height="3"/><rect x="277" y="269" width="3" height="3"/><rect x="280" y="269" width="3" height="3"/><rect x="283" y="269" width="3" height="3"/><rect x="287" y="269" width="2" height="3"/><rect x="290" y="270" width="3" height="2"/><rect x="293" y="270" width="3" height="2"/><rect x="297" y="270" width="2" height="2"/><rect x="300" y="270" width="2" height="2"/><rect x="304" y="270" width="2" height="2"/><rect x="307" y="270" width="2" height="2"/><rect x="310" y="270" width="2" height="2"/><rect x="313" y="270" width="2" height="2"/><rect x="317" y="270" width="2" height="2"/><rect x="320" y="270" width="2" height="2"/><rect x="323" y="270" width="2" height="2"/><rect x="326" y="270" width="2" height="2"/><rect x="330" y="270" width="2" height="2"/><rect x="333" y="270" width="2" height="2"/><rect x="336" y="270" width="2" height="2"/><rect x="339" y="270" width="2" height="2"/><rect x="346" y="270" width="2" height="2"/><rect x="349" y="270" width="2" height="2"/><rect x="353" y="270" width="2" height="2"/><rect x="356" y="270" width="2" height="2"/><rect x="359" y="270" width="2" height="2"/><rect x="375" y="270" width="2" height="2"/><rect x="121" y="273" width="2" height="2"/><rect x="130" y="273" width="2" height="2"/><rect x="137" y="273" width="2" height="2"/><rect x="140" y="273" width="2" height="2"/><rect x="143" y="273" width="2" height="2"/><rect x="150" y="273" width="2" height="2"/><rect x="153" y="273" width="2" height="2"/><rect x="157" y="273" width="2" height="2"/><rect x="160" y="273" width="2" height="2"/><rect x="163" y="273" width="2" height="2"/><rect x="166" y="273" width="2" height="2"/><rect x="170" y="273" width="2" height="2"/><rect x="173" y="273" width="2" height="2"/><rect x="176" y="272" width="2" height="3"/><rect x="179" y="273" width="2" height="2"/><rect x="183" y="273" width="2" height="2"/><rect x="186" y="272" width="2" height="3"/><rect x="189" y="272" width="2" height="3"/><rect x="192" y="272" width="3" height="3"/><rect x="195" y="272" width="3" height="3"/><rect x="198" y="272" width="4" height="3"/><rect x="202" y="272" width="3" height="3"/><rect x="205" y="272" width="3" height="3"/><rect x="208" y="272" width="3" height="3"/><rect x="211" y="272" width="4" height="3"/><rect x="215" y="272" width="3" height="3"/><rect x="218" y="272" width="3" height="3"/><rect x="221" y="272" width="4" height="3"/><rect x="225" y="272" width="3" height="3"/><rect x="228" y="272" width="3" height="3"/><rect x="231" y="272" width="3" height="3"/><rect x="234" y="272" width="4" height="3"/><rect x="238" y="272" width="3" height="3"/><rect x="241" y="272" width="3" height="3"/><rect x="244" y="272" width="3" height="3"/><rect x="247" y="272" width="4" height="3"/><rect x="251" y="272" width="3" height="3"/><rect x="254" y="272" width="3" height="3"/><rect x="257" y="272" width="3" height="3"/><rect x="260" y="272" width="4" height="3"/><rect x="264" y="272" width="3" height="3"/><rect x="267" y="272" width="3" height="3"/><rect x="270" y="272" width="4" height="3"/><rect x="274" y="272" width="3" height="3"/><rect x="277" y="272" width="3" height="3"/><rect x="280" y="272" width="3" height="3"/><rect x="283" y="272" width="4" height="3"/><rect x="287" y="272" width="3" height="3"/><rect x="290" y="272" width="3" height="3"/><rect x="293" y="272" width="3" height="3"/><rect x="297" y="272" width="2" height="3"/><rect x="300" y="272" width="2" height="3"/><rect x="303" y="272" width="3" height="3"/><rect x="307" y="273" width="2" height="2"/><rect x="310" y="273" width="2" height="2"/><rect x="313" y="273" width="2" height="2"/><rect x="317" y="273" width="2" height="2"/><rect x="320" y="273" width="2" height="2"/><rect x="323" y="273" width="2" height="2"/><rect x="326" y="273" width="2" height="2"/><rect x="330" y="273" width="2" height="2"/><rect x="333" y="273" width="2" height="2"/><rect x="336" y="273" width="2" height="2"/><rect x="339" y="273" width="2" height="2"/><rect x="343" y="273" width="2" height="2"/><rect x="346" y="273" width="2" height="2"/><rect x="349" y="273" width="2" height="2"/><rect x="353" y="273" width="2" height="2"/><rect x="356" y="273" width="2" height="2"/><rect x="362" y="273" width="2" height="2"/><rect x="124" y="276" width="2" height="2"/><rect x="134" y="276" width="2" height="2"/><rect x="137" y="276" width="2" height="2"/><rect x="140" y="276" width="2" height="2"/><rect x="147" y="276" width="2" height="2"/><rect x="150" y="276" width="2" height="2"/><rect x="153" y="276" width="2" height="2"/><rect x="157" y="276" width="2" height="2"/><rect x="160" y="276" width="2" height="2"/><rect x="163" y="276" width="2" height="2"/><rect x="166" y="276" width="2" height="2"/><rect x="170" y="276" width="2" height="2"/><rect x="173" y="276" width="2" height="2"/><rect x="176" y="276" width="2" height="2"/><rect x="179" y="276" width="2" height="2"/><rect x="182" y="276" width="3" height="2"/><rect x="186" y="276" width="2" height="2"/><rect x="189" y="276" width="2" height="2"/><rect x="192" y="275" width="3" height="3"/><rect x="195" y="275" width="3" height="3"/><rect x="198" y="275" width="4" height="3"/><rect x="202" y="275" width="3" height="3"/><rect x="205" y="275" width="3" height="3"/><rect x="208" y="275" width="3" height="3"/><rect x="211" y="275" width="4" height="3"/><rect x="215" y="275" width="3" height="3"/><rect x="218" y="275" width="3" height="3"/><rect x="221" y="275" width="4" height="3"/><rect x="225" y="275" width="3" height="3"/><rect x="228" y="275" width="3" height="3"/><rect x="231" y="275" width="3" height="3"/><rect x="234" y="275" width="4" height="3"/><rect x="238" y="275" width="3" height="3"/><rect x="241" y="275" width="3" height="3"/><rect x="244" y="275" width="3" height="3"/><rect x="247" y="275" width="4" height="3"/><rect x="251" y="275" width="3" height="3"/><rect x="254" y="275" width="3" height="3"/><rect x="257" y="275" width="3" height="3"/><rect x="260" y="275" width="4" height="3"/><rect x="264" y="275" width="3" height="3"/><rect x="267" y="275" width="3" height="3"/><rect x="270" y="275" width="4" height="3"/><rect x="274" y="275" width="3" height="3"/><rect x="277" y="275" width="3" height="3"/><rect x="280" y="275" width="3" height="3"/><rect x="283" y="275" width="3" height="3"/><rect x="287" y="275" width="2" height="3"/><rect x="290" y="276" width="3" height="2"/><rect x="293" y="276" width="3" height="2"/><rect x="297" y="276" width="2" height="2"/><rect x="300" y="276" width="2" height="2"/><rect x="304" y="276" width="2" height="2"/><rect x="307" y="276" width="2" height="2"/><rect x="310" y="276" width="2" height="2"/><rect x="313" y="276" width="2" height="2"/><rect x="317" y="276" width="2" height="2"/><rect x="320" y="276" width="2" height="2"/><rect x="323" y="276" width="2" height="2"/><rect x="326" y="276" width="2" height="2"/><rect x="330" y="276" width="2" height="2"/><rect x="333" y="276" width="2" height="2"/><rect x="336" y="276" width="2" height="2"/><rect x="339" y="276" width="2" height="2"/><rect x="353" y="276" width="2" height="2"/><rect x="359" y="276" width="2" height="2"/><rect x="362" y="276" width="2" height="2"/><rect x="379" y="276" width="2" height="2"/><rect x="388" y="276" width="2" height="2"/><rect x="88" y="279" width="2" height="2"/><rect x="104" y="279" width="2" height="2"/><rect x="111" y="279" width="2" height="2"/><rect x="137" y="279" width="2" height="2"/><rect x="140" y="279" width="2" height="2"/><rect x="147" y="279" width="2" height="2"/><rect x="153" y="279" width="2" height="2"/><rect x="157" y="279" width="2" height="2"/><rect x="160" y="279" width="2" height="2"/><rect x="163" y="279" width="2" height="2"/><rect x="166" y="279" width="2" height="2"/><rect x="170" y="279" width="2" height="2"/><rect x="173" y="279" width="2" height="2"/><rect x="176" y="279" width="2" height="2"/><rect x="179" y="279" width="3" height="2"/><rect x="182" y="279" width="3" height="2"/><rect x="186" y="279" width="2" height="2"/><rect x="189" y="278" width="2" height="3"/><rect x="192" y="279" width="3" height="2"/><rect x="195" y="278" width="3" height="4"/><rect x="198" y="278" width="4" height="4"/><rect x="202" y="278" width="3" height="3"/><rect x="205" y="278" width="3" height="4"/><rect x="208" y="278" width="3" height="4"/><rect x="211" y="278" width="4" height="4"/><rect x="215" y="278" width="3" height="4"/><rect x="218" y="278" width="3" height="4"/><rect x="221" y="278" width="4" height="4"/><rect x="225" y="278" width="3" height="4"/><rect x="228" y="278" width="3" height="4"/><rect x="231" y="278" width="3" height="4"/><rect x="234" y="278" width="4" height="4"/><rect x="238" y="278" width="3" height="4"/><rect x="241" y="278" width="3" height="4"/><rect x="244" y="278" width="3" height="4"/><rect x="247" y="278" width="4" height="4"/><rect x="251" y="278" width="3" height="4"/><rect x="254" y="278" width="3" height="4"/><rect x="257" y="278" width="3" height="4"/><rect x="260" y="278" width="4" height="4"/><rect x="264" y="278" width="3" height="4"/><rect x="267" y="278" width="3" height="4"/><rect x="270" y="278" width="4" height="4"/><rect x="274" y="278" width="3" height="3"/><rect x="277" y="278" width="3" height="4"/><rect x="280" y="278" width="3" height="4"/><rect x="284" y="279" width="2" height="2"/><rect x="287" y="278" width="3" height="3"/><rect x="290" y="279" width="3" height="2"/><rect x="293" y="279" width="3" height="2"/><rect x="297" y="279" width="2" height="2"/><rect x="300" y="279" width="2" height="2"/><rect x="304" y="279" width="2" height="2"/><rect x="307" y="279" width="2" height="2"/><rect x="310" y="279" width="2" height="2"/><rect x="313" y="279" width="2" height="2"/><rect x="317" y="279" width="2" height="2"/><rect x="320" y="279" width="2" height="2"/><rect x="323" y="279" width="2" height="2"/><rect x="326" y="279" width="2" height="2"/><rect x="330" y="279" width="2" height="2"/><rect x="333" y="279" width="2" height="2"/><rect x="336" y="279" width="2" height="2"/><rect x="339" y="279" width="2" height="2"/><rect x="343" y="279" width="2" height="2"/><rect x="346" y="279" width="2" height="2"/><rect x="349" y="279" width="2" height="2"/><rect x="353" y="279" width="2" height="2"/><rect x="369" y="279" width="2" height="2"/><rect x="137" y="283" width="2" height="2"/><rect x="143" y="283" width="2" height="2"/><rect x="147" y="283" width="2" height="2"/><rect x="157" y="283" width="2" height="2"/><rect x="160" y="283" width="2" height="2"/><rect x="163" y="283" width="2" height="2"/><rect x="166" y="283" width="2" height="2"/><rect x="170" y="283" width="2" height="2"/><rect x="173" y="283" width="2" height="2"/><rect x="176" y="283" width="2" height="2"/><rect x="179" y="282" width="2" height="3"/><rect x="182" y="282" width="3" height="3"/><rect x="186" y="283" width="2" height="2"/><rect x="189" y="282" width="2" height="3"/><rect x="192" y="282" width="3" height="3"/><rect x="195" y="282" width="3" height="3"/><rect x="198" y="282" width="3" height="3"/><rect x="202" y="282" width="2" height="3"/><rect x="205" y="282" width="3" height="3"/><rect x="208" y="282" width="3" height="3"/><rect x="211" y="282" width="4" height="3"/><rect x="215" y="282" width="3" height="3"/><rect x="218" y="282" width="3" height="3"/><rect x="221" y="282" width="4" height="3"/><rect x="225" y="282" width="3" height="3"/><rect x="228" y="282" width="3" height="3"/><rect x="231" y="282" width="3" height="3"/><rect x="234" y="282" width="4" height="3"/><rect x="238" y="282" width="3" height="3"/><rect x="241" y="282" width="3" height="3"/><rect x="244" y="282" width="3" height="3"/><rect x="247" y="282" width="4" height="3"/><rect x="251" y="282" width="3" height="3"/><rect x="254" y="282" width="3" height="3"/><rect x="257" y="282" width="3" height="3"/><rect x="260" y="282" width="4" height="3"/><rect x="264" y="282" width="3" height="3"/><rect x="267" y="282" width="3" height="3"/><rect x="270" y="282" width="3" height="3"/><rect x="274" y="282" width="2" height="3"/><rect x="277" y="282" width="3" height="3"/><rect x="280" y="282" width="3" height="3"/><rect x="284" y="282" width="2" height="3"/><rect x="287" y="282" width="2" height="3"/><rect x="290" y="282" width="3" height="3"/><rect x="293" y="282" width="3" height="3"/><rect x="297" y="283" width="2" height="2"/><rect x="300" y="282" width="2" height="3"/><rect x="304" y="283" width="2" height="2"/><rect x="307" y="283" width="2" height="2"/><rect x="310" y="283" width="2" height="2"/><rect x="313" y="283" width="2" height="2"/><rect x="317" y="283" width="2" height="2"/><rect x="320" y="283" width="2" height="2"/><rect x="323" y="283" width="2" height="2"/><rect x="326" y="283" width="2" height="2"/><rect x="333" y="283" width="2" height="2"/><rect x="336" y="283" width="2" height="2"/><rect x="339" y="283" width="2" height="2"/><rect x="343" y="283" width="2" height="2"/><rect x="362" y="283" width="2" height="2"/><rect x="114" y="286" width="2" height="2"/><rect x="137" y="286" width="2" height="2"/><rect x="140" y="286" width="2" height="2"/><rect x="143" y="286" width="2" height="2"/><rect x="147" y="286" width="2" height="2"/><rect x="150" y="286" width="2" height="2"/><rect x="153" y="286" width="2" height="2"/><rect x="157" y="286" width="2" height="2"/><rect x="160" y="286" width="2" height="2"/><rect x="163" y="286" width="2" height="2"/><rect x="166" y="286" width="2" height="2"/><rect x="170" y="286" width="2" height="2"/><rect x="173" y="286" width="2" height="2"/><rect x="176" y="286" width="2" height="2"/><rect x="179" y="286" width="2" height="2"/><rect x="183" y="286" width="2" height="2"/><rect x="186" y="286" width="2" height="2"/><rect x="189" y="286" width="2" height="2"/><rect x="192" y="286" width="2" height="2"/><rect x="195" y="286" width="3" height="2"/><rect x="199" y="286" width="2" height="2"/><rect x="202" y="285" width="2" height="3"/><rect x="205" y="286" width="3" height="2"/><rect x="208" y="285" width="3" height="3"/><rect x="212" y="285" width="2" height="3"/><rect x="215" y="285" width="3" height="3"/><rect x="218" y="285" width="3" height="3"/><rect x="221" y="285" width="4" height="3"/><rect x="225" y="285" width="3" height="3"/><rect x="228" y="285" width="3" height="3"/><rect x="231" y="285" width="3" height="3"/><rect x="234" y="285" width="4" height="3"/><rect x="238" y="285" width="3" height="3"/><rect x="241" y="285" width="3" height="3"/><rect x="244" y="285" width="3" height="3"/><rect x="247" y="285" width="4" height="3"/><rect x="251" y="285" width="3" height="3"/><rect x="254" y="285" width="3" height="3"/><rect x="257" y="285" width="3" height="3"/><rect x="261" y="285" width="2" height="3"/><rect x="264" y="285" width="3" height="3"/><rect x="267" y="285" width="3" height="3"/><rect x="270" y="285" width="3" height="3"/><rect x="274" y="286" width="2" height="2"/><rect x="277" y="285" width="3" height="3"/><rect x="280" y="286" width="3" height="2"/><rect x="284" y="286" width="2" height="2"/><rect x="287" y="286" width="2" height="2"/><rect x="290" y="286" width="3" height="2"/><rect x="294" y="286" width="2" height="2"/><rect x="297" y="286" width="2" height="2"/><rect x="300" y="286" width="2" height="2"/><rect x="304" y="286" width="2" height="2"/><rect x="307" y="286" width="2" height="2"/><rect x="310" y="286" width="2" height="2"/><rect x="313" y="286" width="2" height="2"/><rect x="317" y="286" width="2" height="2"/><rect x="320" y="286" width="2" height="2"/><rect x="326" y="286" width="2" height="2"/><rect x="330" y="286" width="2" height="2"/><rect x="333" y="286" width="2" height="2"/><rect x="336" y="286" width="2" height="2"/><rect x="339" y="286" width="2" height="2"/><rect x="346" y="286" width="2" height="2"/><rect x="353" y="286" width="2" height="2"/><rect x="140" y="289" width="2" height="2"/><rect x="153" y="289" width="2" height="2"/><rect x="157" y="289" width="2" height="2"/><rect x="160" y="289" width="2" height="2"/><rect x="163" y="289" width="2" height="2"/><rect x="166" y="289" width="2" height="2"/><rect x="170" y="289" width="2" height="2"/><rect x="173" y="289" width="2" height="2"/><rect x="176" y="289" width="2" height="2"/><rect x="179" y="289" width="2" height="2"/><rect x="183" y="289" width="2" height="2"/><rect x="186" y="289" width="2" height="2"/><rect x="189" y="289" width="2" height="2"/><rect x="192" y="289" width="2" height="2"/><rect x="196" y="289" width="2" height="2"/><rect x="199" y="289" width="2" height="2"/><rect x="202" y="289" width="2" height="2"/><rect x="206" y="289" width="2" height="2"/><rect x="209" y="289" width="2" height="2"/><rect x="212" y="289" width="2" height="2"/><rect x="215" y="289" width="2" height="2"/><rect x="218" y="289" width="3" height="2"/><rect x="221" y="288" width="3" height="3"/><rect x="225" y="289" width="2" height="2"/><rect x="228" y="289" width="3" height="2"/><rect x="231" y="289" width="3" height="2"/><rect x="234" y="289" width="3" height="2"/><rect x="238" y="289" width="2" height="2"/><rect x="241" y="289" width="3" height="2"/><rect x="244" y="289" width="3" height="2"/><rect x="248" y="289" width="2" height="2"/><rect x="251" y="289" width="2" height="2"/><rect x="255" y="289" width="2" height="2"/><rect x="257" y="289" width="3" height="2"/><rect x="261" y="289" width="2" height="2"/><rect x="264" y="289" width="2" height="2"/><rect x="267" y="289" width="3" height="2"/><rect x="271" y="289" width="2" height="2"/><rect x="274" y="289" width="2" height="2"/><rect x="277" y="289" width="2" height="2"/><rect x="280" y="289" width="3" height="2"/><rect x="284" y="289" width="2" height="2"/><rect x="287" y="289" width="2" height="2"/><rect x="290" y="289" width="2" height="2"/><rect x="294" y="289" width="2" height="2"/><rect x="297" y="289" width="2" height="2"/><rect x="300" y="289" width="2" height="2"/><rect x="307" y="289" width="2" height="2"/><rect x="310" y="289" width="2" height="2"/><rect x="313" y="289" width="2" height="2"/><rect x="317" y="289" width="2" height="2"/><rect x="320" y="289" width="2" height="2"/><rect x="323" y="289" width="2" height="2"/><rect x="326" y="289" width="2" height="2"/><rect x="336" y="289" width="2" height="2"/><rect x="127" y="293" width="2" height="2"/><rect x="147" y="293" width="2" height="2"/><rect x="153" y="293" width="2" height="2"/><rect x="160" y="293" width="2" height="2"/><rect x="163" y="293" width="2" height="2"/><rect x="170" y="293" width="2" height="2"/><rect x="173" y="293" width="2" height="2"/><rect x="176" y="293" width="2" height="2"/><rect x="183" y="293" width="2" height="2"/><rect x="186" y="293" width="2" height="2"/><rect x="189" y="293" width="2" height="2"/><rect x="192" y="293" width="2" height="2"/><rect x="196" y="293" width="2" height="2"/><rect x="199" y="293" width="2" height="2"/><rect x="202" y="293" width="2" height="2"/><rect x="206" y="293" width="2" height="2"/><rect x="209" y="293" width="2" height="2"/><rect x="212" y="293" width="2" height="2"/><rect x="215" y="293" width="2" height="2"/><rect x="219" y="293" width="2" height="2"/><rect x="222" y="292" width="2" height="3"/><rect x="225" y="293" width="2" height="2"/><rect x="228" y="293" width="2" height="2"/><rect x="232" y="293" width="2" height="2"/><rect x="235" y="293" width="2" height="2"/><rect x="238" y="293" width="2" height="2"/><rect x="241" y="293" width="2" height="2"/><rect x="245" y="293" width="2" height="2"/><rect x="248" y="293" width="2" height="2"/><rect x="251" y="293" width="2" height="2"/><rect x="255" y="293" width="2" height="2"/><rect x="258" y="293" width="2" height="2"/><rect x="261" y="293" width="2" height="2"/><rect x="264" y="293" width="2" height="2"/><rect x="267" y="293" width="3" height="2"/><rect x="271" y="293" width="2" height="2"/><rect x="274" y="293" width="2" height="2"/><rect x="277" y="293" width="2" height="2"/><rect x="281" y="293" width="2" height="2"/><rect x="284" y="293" width="2" height="2"/><rect x="287" y="293" width="2" height="2"/><rect x="290" y="293" width="2" height="2"/><rect x="294" y="293" width="2" height="2"/><rect x="297" y="293" width="2" height="2"/><rect x="303" y="293" width="3" height="2"/><rect x="307" y="293" width="2" height="2"/><rect x="317" y="293" width="2" height="2"/><rect x="323" y="293" width="2" height="2"/><rect x="326" y="293" width="2" height="2"/><rect x="330" y="293" width="2" height="2"/><rect x="150" y="296" width="2" height="2"/><rect x="163" y="296" width="2" height="2"/><rect x="173" y="296" width="2" height="2"/><rect x="176" y="296" width="2" height="2"/><rect x="186" y="296" width="2" height="2"/><rect x="189" y="296" width="2" height="2"/><rect x="192" y="296" width="2" height="2"/><rect x="196" y="296" width="2" height="2"/><rect x="199" y="296" width="2" height="2"/><rect x="202" y="296" width="2" height="2"/><rect x="206" y="296" width="2" height="2"/><rect x="209" y="296" width="2" height="2"/><rect x="212" y="296" width="2" height="2"/><rect x="215" y="296" width="2" height="2"/><rect x="219" y="296" width="2" height="2"/><rect x="222" y="296" width="2" height="2"/><rect x="225" y="296" width="2" height="2"/><rect x="228" y="296" width="2" height="2"/><rect x="232" y="296" width="2" height="2"/><rect x="235" y="296" width="2" height="2"/><rect x="238" y="296" width="2" height="2"/><rect x="241" y="296" width="2" height="2"/><rect x="245" y="296" width="2" height="2"/><rect x="248" y="296" width="2" height="2"/><rect x="251" y="296" width="2" height="2"/><rect x="258" y="296" width="2" height="2"/><rect x="261" y="296" width="2" height="2"/><rect x="264" y="296" width="2" height="2"/><rect x="268" y="296" width="2" height="2"/><rect x="271" y="296" width="2" height="2"/><rect x="274" y="296" width="2" height="2"/><rect x="277" y="296" width="2" height="2"/><rect x="281" y="296" width="2" height="2"/><rect x="284" y="296" width="2" height="2"/><rect x="287" y="296" width="2" height="2"/><rect x="290" y="296" width="2" height="2"/><rect x="294" y="296" width="2" height="2"/><rect x="320" y="296" width="2" height="2"/><rect x="166" y="299" width="2" height="2"/><rect x="179" y="299" width="2" height="2"/><rect x="189" y="299" width="2" height="2"/><rect x="199" y="299" width="2" height="2"/><rect x="202" y="299" width="2" height="2"/><rect x="206" y="299" width="2" height="2"/><rect x="209" y="299" width="2" height="2"/><rect x="215" y="299" width="2" height="2"/><rect x="222" y="299" width="2" height="2"/><rect x="228" y="299" width="2" height="2"/><rect x="232" y="299" width="2" height="2"/><rect x="235" y="299" width="2" height="2"/><rect x="238" y="299" width="2" height="2"/><rect x="241" y="299" width="2" height="2"/><rect x="248" y="299" width="2" height="2"/><rect x="255" y="299" width="2" height="2"/><rect x="258" y="299" width="2" height="2"/><rect x="261" y="299" width="2" height="2"/><rect x="268" y="299" width="2" height="2"/><rect x="274" y="299" width="2" height="2"/><rect x="290" y="299" width="2" height="2"/><rect x="297" y="299" width="2" height="2"/><rect x="300" y="299" width="2" height="2"/><rect x="310" y="299" width="2" height="2"/><rect x="196" y="303" width="2" height="2"/><rect x="163" y="306" width="2" height="2"/><rect x="232" y="306" width="2" height="2"/><rect x="238" y="309" width="2" height="2"/><rect x="323" y="309" width="2" height="2"/><rect x="196" y="316" width="2" height="2"/><rect x="258" y="316" width="2" height="2"/><rect x="192" y="319" width="2" height="2"/><rect x="212" y="319" width="2" height="2"/><rect x="238" y="319" width="2" height="2"/><rect x="245" y="319" width="2" height="2"/><rect x="320" y="319" width="2" height="2"/><rect x="261" y="322" width="2" height="2"/><rect x="287" y="322" width="2" height="2"/><rect x="206" y="326" width="2" height="2"/><rect x="209" y="326" width="2" height="2"/><rect x="261" y="326" width="2" height="2"/><rect x="274" y="332" width="2" height="2"/><rect x="212" y="336" width="2" height="2"/><rect x="222" y="336" width="2" height="2"/><rect x="287" y="336" width="2" height="2"/><rect x="290" y="336" width="2" height="2"/><rect x="199" y="339" width="2" height="2"/><rect x="264" y="339" width="2" height="2"/><rect x="297" y="339" width="2" height="2"/><rect x="215" y="342" width="2" height="2"/><rect x="225" y="342" width="2" height="2"/><rect x="225" y="349" width="2" height="2"/><rect x="228" y="349" width="2" height="2"/><rect x="238" y="352" width="2" height="2"/><rect x="251" y="352" width="2" height="2"/><rect x="281" y="352" width="2" height="2"/><rect x="307" y="352" width="2" height="2"/><rect x="310" y="352" width="2" height="2"/><rect x="225" y="355" width="2" height="2"/><rect x="228" y="355" width="2" height="2"/><rect x="235" y="355" width="2" height="2"/><rect x="215" y="359" width="2" height="2"/><rect x="271" y="359" width="2" height="2"/><rect x="235" y="362" width="2" height="2"/><rect x="228" y="365" width="2" height="2"/><rect x="241" y="365" width="2" height="2"/></g><g fill="#fff"><rect x="232" y="217" width="1" height="1"/><rect x="245" y="227" width="1" height="1"/><rect x="268" y="227" width="1" height="1"/><rect x="232" y="237" width="1" height="1"/><rect x="242" y="237" width="1" height="1"/><rect x="245" y="237" width="1" height="1"/><rect x="255" y="237" width="1" height="1"/><rect x="258" y="237" width="1" height="1"/><rect x="206" y="240" width="1" height="1"/><rect x="219" y="240" width="1" height="1"/><rect x="232" y="240" width="1" height="1"/><rect x="242" y="240" width="1" height="1"/><rect x="245" y="240" width="1" height="1"/><rect x="255" y="240" width="1" height="1"/><rect x="268" y="240" width="1" height="1"/><rect x="235" y="243" width="1" height="1"/><rect x="252" y="243" width="1" height="1"/><rect x="216" y="246" width="1" height="1"/><rect x="219" y="246" width="2" height="1"/><rect x="222" y="246" width="1" height="1"/><rect x="229" y="246" width="1" height="1"/><rect x="242" y="246" width="1" height="1"/><rect x="245" y="246" width="1" height="1"/><rect x="248" y="246" width="1" height="1"/><rect x="258" y="246" width="1" height="1"/><rect x="271" y="246" width="1" height="1"/><rect x="193" y="250" width="1" height="1"/><rect x="206" y="250" width="1" height="1"/><rect x="209" y="250" width="1" height="1"/><rect x="216" y="250" width="1" height="1"/><rect x="219" y="250" width="1" height="1"/><rect x="222" y="250" width="1" height="1"/><rect x="229" y="250" width="1" height="1"/><rect x="232" y="250" width="1" height="1"/><rect x="235" y="250" width="1" height="1"/><rect x="242" y="250" width="1" height="1"/><rect x="245" y="250" width="1" height="1"/><rect x="248" y="250" width="1" height="1"/><rect x="252" y="250" width="1" height="1"/><rect x="255" y="250" width="1" height="1"/><rect x="258" y="250" width="1" height="1"/><rect x="268" y="250" width="1" height="1"/><rect x="281" y="250" width="1" height="1"/><rect x="291" y="250" width="1" height="1"/><rect x="209" y="253" width="1" height="1"/><rect x="216" y="253" width="1" height="1"/><rect x="219" y="253" width="1" height="1"/><rect x="222" y="253" width="1" height="1"/><rect x="229" y="253" width="1" height="1"/><rect x="232" y="253" width="1" height="1"/><rect x="235" y="253" width="1" height="1"/><rect x="239" y="253" width="1" height="1"/><rect x="242" y="253" width="1" height="1"/><rect x="245" y="253" width="1" height="1"/><rect x="248" y="253" width="1" height="1"/><rect x="252" y="253" width="1" height="1"/><rect x="255" y="253" width="1" height="1"/><rect x="258" y="253" width="1" height="1"/><rect x="261" y="253" width="1" height="1"/><rect x="265" y="253" width="1" height="1"/><rect x="268" y="253" width="1" height="1"/><rect x="278" y="253" width="1" height="1"/><rect x="281" y="253" width="1" height="1"/><rect x="209" y="256" width="1" height="1"/><rect x="212" y="256" width="1" height="1"/><rect x="216" y="256" width="1" height="1"/><rect x="219" y="256" width="1" height="1"/><rect x="222" y="256" width="1" height="1"/><rect x="226" y="256" width="2" height="2"/><rect x="229" y="256" width="1" height="1"/><rect x="232" y="256" width="1" height="1"/><rect x="235" y="256" width="1" height="2"/><rect x="239" y="256" width="1" height="1"/><rect x="242" y="256" width="1" height="2"/><rect x="245" y="256" width="1" height="2"/><rect x="248" y="256" width="2" height="2"/><rect x="252" y="256" width="1" height="1"/><rect x="255" y="256" width="1" height="2"/><rect x="258" y="256" width="1" height="2"/><rect x="261" y="256" width="2" height="2"/><rect x="265" y="256" width="1" height="1"/><rect x="268" y="256" width="2" height="1"/><rect x="271" y="256" width="1" height="1"/><rect x="278" y="256" width="1" height="1"/><rect x="281" y="256" width="1" height="1"/><rect x="183" y="260" width="1" height="1"/><rect x="193" y="260" width="1" height="1"/><rect x="196" y="260" width="1" height="1"/><rect x="203" y="260" width="1" height="1"/><rect x="206" y="260" width="1" height="1"/><rect x="209" y="260" width="1" height="1"/><rect x="212" y="260" width="1" height="2"/><rect x="216" y="260" width="1" height="1"/><rect x="219" y="260" width="1" height="1"/><rect x="222" y="260" width="1" height="1"/><rect x="226" y="260" width="2" height="1"/><rect x="229" y="260" width="1" height="1"/><rect x="232" y="260" width="1" height="1"/><rect x="235" y="260" width="1" height="1"/><rect x="239" y="260" width="2" height="1"/><rect x="242" y="260" width="1" height="1"/><rect x="245" y="260" width="1" height="1"/><rect x="248" y="260" width="2" height="1"/><rect x="252" y="260" width="2" height="1"/><rect x="255" y="260" width="2" height="1"/><rect x="258" y="260" width="1" height="1"/><rect x="261" y="260" width="2" height="1"/><rect x="265" y="260" width="1" height="1"/><rect x="268" y="260" width="1" height="1"/><rect x="271" y="260" width="1" height="1"/><rect x="278" y="260" width="1" height="1"/><rect x="281" y="260" width="1" height="1"/><rect x="284" y="260" width="1" height="1"/><rect x="291" y="260" width="1" height="1"/><rect x="294" y="260" width="1" height="1"/><rect x="307" y="260" width="1" height="1"/><rect x="193" y="263" width="1" height="1"/><rect x="196" y="263" width="1" height="1"/><rect x="203" y="263" width="1" height="1"/><rect x="206" y="263" width="1" height="1"/><rect x="209" y="263" width="1" height="1"/><rect x="212" y="263" width="2" height="1"/><rect x="216" y="263" width="1" height="1"/><rect x="219" y="263" width="1" height="1"/><rect x="222" y="263" width="1" height="1"/><rect x="226" y="263" width="2" height="1"/><rect x="229" y="263" width="1" height="1"/><rect x="232" y="263" width="1" height="1"/><rect x="235" y="263" width="2" height="1"/><rect x="239" y="263" width="1" height="1"/><rect x="242" y="263" width="1" height="1"/><rect x="245" y="263" width="1" height="2"/><rect x="248" y="263" width="2" height="2"/><rect x="252" y="263" width="1" height="1"/><rect x="255" y="263" width="1" height="1"/><rect x="258" y="263" width="2" height="2"/><rect x="261" y="263" width="2" height="1"/><rect x="265" y="263" width="1" height="1"/><rect x="268" y="263" width="1" height="1"/><rect x="271" y="263" width="1" height="1"/><rect x="275" y="263" width="2" height="1"/><rect x="278" y="263" width="1" height="1"/><rect x="281" y="263" width="1" height="1"/><rect x="284" y="263" width="1" height="1"/><rect x="291" y="263" width="1" height="1"/><rect x="294" y="263" width="1" height="1"/><rect x="297" y="263" width="1" height="1"/><rect x="304" y="263" width="1" height="1"/><rect x="206" y="266" width="2" height="1"/><rect x="209" y="266" width="1" height="2"/><rect x="212" y="266" width="2" height="2"/><rect x="216" y="266" width="1" height="2"/><rect x="219" y="266" width="1" height="2"/><rect x="222" y="266" width="2" height="2"/><rect x="226" y="266" width="2" height="2"/><rect x="229" y="266" width="1" height="2"/><rect x="232" y="266" width="1" height="1"/><rect x="235" y="266" width="2" height="2"/><rect x="239" y="266" width="2" height="2"/><rect x="242" y="266" width="1" height="2"/><rect x="245" y="266" width="2" height="2"/><rect x="248" y="266" width="2" height="2"/><rect x="252" y="266" width="1" height="2"/><rect x="255" y="266" width="1" height="1"/><rect x="258" y="266" width="1" height="2"/><rect x="261" y="266" width="2" height="2"/><rect x="265" y="266" width="2" height="2"/><rect x="268" y="266" width="1" height="2"/><rect x="271" y="266" width="1" height="2"/><rect x="275" y="266" width="2" height="2"/><rect x="278" y="266" width="1" height="2"/><rect x="281" y="266" width="2" height="1"/><rect x="284" y="266" width="2" height="1"/><rect x="196" y="270" width="1" height="1"/><rect x="199" y="270" width="2" height="1"/><rect x="203" y="270" width="1" height="1"/><rect x="206" y="270" width="1" height="1"/><rect x="209" y="270" width="1" height="1"/><rect x="212" y="270" width="2" height="1"/><rect x="216" y="270" width="1" height="1"/><rect x="219" y="270" width="2" height="1"/><rect x="222" y="270" width="2" height="2"/><rect x="226" y="270" width="2" height="2"/><rect x="229" y="270" width="1" height="1"/><rect x="232" y="270" width="2" height="2"/><rect x="235" y="270" width="2" height="2"/><rect x="239" y="270" width="2" height="2"/><rect x="242" y="270" width="2" height="1"/><rect x="245" y="270" width="1" height="1"/><rect x="248" y="270" width="2" height="2"/><rect x="252" y="270" width="2" height="2"/><rect x="255" y="270" width="1" height="1"/><rect x="258" y="270" width="1" height="1"/><rect x="261" y="270" width="2" height="2"/><rect x="265" y="270" width="2" height="2"/><rect x="268" y="270" width="1" height="1"/><rect x="271" y="270" width="1" height="1"/><rect x="275" y="270" width="1" height="1"/><rect x="278" y="270" width="1" height="1"/><rect x="281" y="270" width="1" height="1"/><rect x="284" y="270" width="1" height="1"/><rect x="193" y="273" width="1" height="1"/><rect x="196" y="273" width="1" height="1"/><rect x="199" y="273" width="1" height="1"/><rect x="203" y="273" width="1" height="1"/><rect x="206" y="273" width="1" height="1"/><rect x="209" y="273" width="1" height="1"/><rect x="212" y="273" width="2" height="1"/><rect x="216" y="273" width="2" height="2"/><rect x="219" y="273" width="1" height="1"/><rect x="222" y="273" width="2" height="1"/><rect x="226" y="273" width="2" height="1"/><rect x="229" y="273" width="2" height="1"/><rect x="232" y="273" width="2" height="2"/><rect x="235" y="273" width="2" height="2"/><rect x="239" y="273" width="2" height="2"/><rect x="242" y="273" width="2" height="2"/><rect x="245" y="273" width="2" height="1"/><rect x="248" y="273" width="2" height="2"/><rect x="252" y="273" width="1" height="2"/><rect x="255" y="273" width="2" height="2"/><rect x="258" y="273" width="2" height="1"/><rect x="261" y="273" width="2" height="1"/><rect x="265" y="273" width="2" height="1"/><rect x="268" y="273" width="1" height="1"/><rect x="271" y="273" width="1" height="1"/><rect x="275" y="273" width="2" height="1"/><rect x="278" y="273" width="1" height="1"/><rect x="281" y="273" width="1" height="1"/><rect x="284" y="273" width="1" height="1"/><rect x="288" y="273" width="1" height="1"/><rect x="291" y="273" width="1" height="1"/><rect x="294" y="273" width="1" height="1"/><rect x="304" y="273" width="1" height="1"/><rect x="193" y="276" width="1" height="1"/><rect x="196" y="276" width="1" height="1"/><rect x="199" y="276" width="2" height="1"/><rect x="203" y="276" width="1" height="1"/><rect x="206" y="276" width="1" height="1"/><rect x="209" y="276" width="1" height="1"/><rect x="212" y="276" width="2" height="2"/><rect x="216" y="276" width="2" height="2"/><rect x="219" y="276" width="1" height="2"/><rect x="222" y="276" width="2" height="2"/><rect x="226" y="276" width="2" height="2"/><rect x="229" y="276" width="1" height="2"/><rect x="232" y="276" width="2" height="2"/><rect x="235" y="276" width="2" height="2"/><rect x="239" y="276" width="2" height="2"/><rect x="242" y="276" width="2" height="2"/><rect x="245" y="276" width="1" height="2"/><rect x="248" y="276" width="2" height="2"/><rect x="252" y="276" width="2" height="2"/><rect x="255" y="276" width="2" height="2"/><rect x="258" y="276" width="2" height="2"/><rect x="261" y="276" width="2" height="1"/><rect x="265" y="276" width="2" height="2"/><rect x="268" y="276" width="1" height="2"/><rect x="271" y="276" width="1" height="1"/><rect x="275" y="276" width="2" height="2"/><rect x="278" y="276" width="1" height="2"/><rect x="281" y="276" width="1" height="1"/><rect x="284" y="276" width="1" height="1"/><rect x="196" y="279" width="1" height="1"/><rect x="199" y="279" width="1" height="1"/><rect x="203" y="279" width="1" height="1"/><rect x="206" y="279" width="1" height="1"/><rect x="209" y="279" width="2" height="1"/><rect x="212" y="279" width="2" height="1"/><rect x="216" y="279" width="1" height="2"/><rect x="219" y="279" width="1" height="2"/><rect x="222" y="279" width="2" height="2"/><rect x="226" y="279" width="2" height="2"/><rect x="229" y="279" width="1" height="2"/><rect x="232" y="279" width="1" height="2"/><rect x="235" y="279" width="2" height="2"/><rect x="239" y="279" width="2" height="2"/><rect x="242" y="279" width="2" height="2"/><rect x="245" y="279" width="2" height="2"/><rect x="248" y="279" width="2" height="2"/><rect x="252" y="279" width="2" height="2"/><rect x="255" y="279" width="2" height="2"/><rect x="258" y="279" width="1" height="2"/><rect x="261" y="279" width="2" height="2"/><rect x="265" y="279" width="1" height="1"/><rect x="268" y="279" width="1" height="1"/><rect x="271" y="279" width="1" height="2"/><rect x="275" y="279" width="2" height="1"/><rect x="278" y="279" width="1" height="1"/><rect x="281" y="279" width="1" height="1"/><rect x="288" y="279" width="1" height="1"/><rect x="183" y="283" width="1" height="1"/><rect x="193" y="283" width="1" height="1"/><rect x="196" y="283" width="1" height="1"/><rect x="199" y="283" width="1" height="1"/><rect x="206" y="283" width="1" height="1"/><rect x="209" y="283" width="1" height="1"/><rect x="212" y="283" width="2" height="1"/><rect x="216" y="283" width="1" height="1"/><rect x="219" y="283" width="1" height="1"/><rect x="222" y="283" width="1" height="1"/><rect x="226" y="283" width="2" height="1"/><rect x="229" y="283" width="1" height="1"/><rect x="232" y="283" width="1" height="1"/><rect x="235" y="283" width="1" height="1"/><rect x="239" y="283" width="2" height="1"/><rect x="242" y="283" width="1" height="1"/><rect x="245" y="283" width="1" height="1"/><rect x="248" y="283" width="2" height="1"/><rect x="252" y="283" width="2" height="1"/><rect x="255" y="283" width="1" height="1"/><rect x="258" y="283" width="1" height="1"/><rect x="261" y="283" width="2" height="1"/><rect x="265" y="283" width="1" height="1"/><rect x="268" y="283" width="1" height="1"/><rect x="271" y="283" width="1" height="1"/><rect x="278" y="283" width="1" height="1"/><rect x="281" y="283" width="1" height="1"/><rect x="291" y="283" width="1" height="1"/><rect x="294" y="283" width="1" height="1"/><rect x="209" y="286" width="1" height="1"/><rect x="216" y="286" width="1" height="1"/><rect x="219" y="286" width="1" height="1"/><rect x="222" y="286" width="1" height="1"/><rect x="226" y="286" width="2" height="1"/><rect x="229" y="286" width="1" height="1"/><rect x="232" y="286" width="1" height="1"/><rect x="235" y="286" width="1" height="1"/><rect x="239" y="286" width="2" height="1"/><rect x="242" y="286" width="1" height="1"/><rect x="245" y="286" width="1" height="1"/><rect x="248" y="286" width="1" height="1"/><rect x="252" y="286" width="1" height="1"/><rect x="255" y="286" width="1" height="1"/><rect x="258" y="286" width="1" height="1"/><rect x="265" y="286" width="1" height="1"/><rect x="268" y="286" width="1" height="1"/><rect x="271" y="286" width="1" height="1"/><rect x="278" y="286" width="1" height="1"/><rect x="222" y="289" width="1" height="1"/></g></svg>
<div class="title">Trim0 All Sigma vs mean</div>
<div class="yl" style="top:362px">0</div><div class="yl" style="top:329px">2</div><div class="yl" style="top:296px">4</div><div class="yl" style="top:263px">6</div><div class="yl" style="top:230px">8</div><div class="yl" style="top:198px">10</div><div class="yl" style="top:165px">12</div><div class="yl" style="top:132px">14</div><div class="yl" style="top:99px">16</div><div class="yl" style="top:66px">18</div><div class="yl" style="top:33px">20</div>
<div class="xl" style="left:31px">-100</div><div class="xl" style="left:113px">-50</div><div class="xl" style="left:195px">0</div><div class="xl" style="left:276px">50</div><div class="xl" style="left:358px">100</div><div class="xl" style="left:440px">150</div><div class="xl" style="left:521px">200</div>
<div class="stats"><div class="hd">Trim0AllMeanSigma</div>
<div class="row" style="top:16px">Entries<span>28224</span></div>
<div class="row" style="top:32px">Mean x<span>11.94</span></div>
<div class="row" style="top:48px">Mean y<span>6.829</span></div>
<div class="row" style="top:66px">RMS x<span>21.63</span></div>
<div class="row" style="top:81px">RMS y<span>1.817</span></div>
</div>
</body></html>
